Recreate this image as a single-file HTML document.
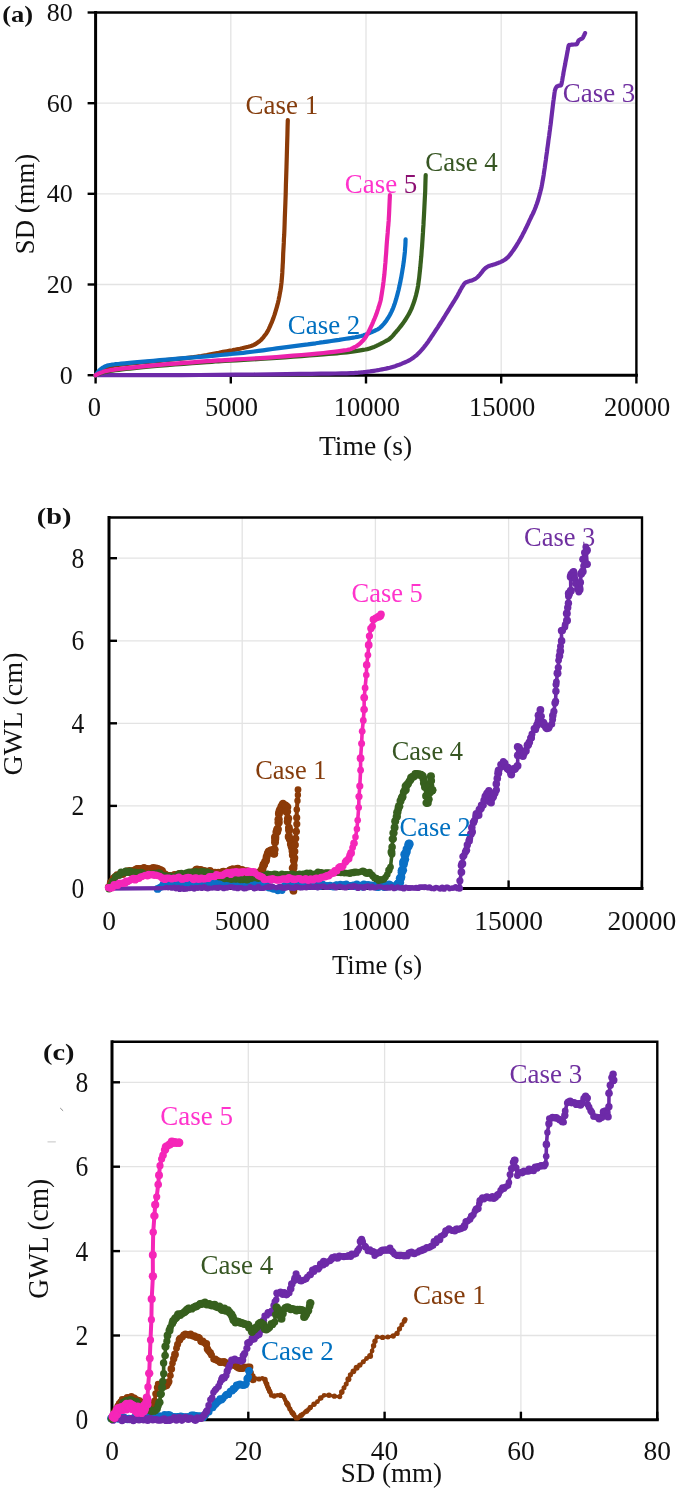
<!DOCTYPE html><html><head><meta charset="utf-8"><style>html,body{margin:0;padding:0;background:#fff}svg{display:block;will-change:transform}text{font-family:"Liberation Serif",serif}</style></head><body>
<svg width="685" height="1496" viewBox="0 0 685 1496">
<rect width="685" height="1496" fill="#fff"/>
<line x1="230.8" y1="12.5" x2="230.8" y2="375.2" stroke="#E3E3E3" stroke-width="1.3"/>
<line x1="366.0" y1="12.5" x2="366.0" y2="375.2" stroke="#E3E3E3" stroke-width="1.3"/>
<line x1="501.2" y1="12.5" x2="501.2" y2="375.2" stroke="#E3E3E3" stroke-width="1.3"/>
<line x1="95.6" y1="284.5" x2="636.4" y2="284.5" stroke="#E3E3E3" stroke-width="1.3"/>
<line x1="95.6" y1="193.8" x2="636.4" y2="193.8" stroke="#E3E3E3" stroke-width="1.3"/>
<line x1="95.6" y1="103.2" x2="636.4" y2="103.2" stroke="#E3E3E3" stroke-width="1.3"/>
<path d="M95.6 12.5 H636.4 V375.2" fill="none" stroke="#000" stroke-width="2.4"/>
<path d="M95.6 12.5 V375.2 H636.4" fill="none" stroke="#000" stroke-width="3" stroke-linecap="square"/>
<line x1="95.6" y1="375.2" x2="95.6" y2="383.5" stroke="#000" stroke-width="2.4"/>
<line x1="230.8" y1="375.2" x2="230.8" y2="383.5" stroke="#000" stroke-width="2.4"/>
<line x1="366.0" y1="375.2" x2="366.0" y2="383.5" stroke="#000" stroke-width="2.4"/>
<line x1="501.2" y1="375.2" x2="501.2" y2="383.5" stroke="#000" stroke-width="2.4"/>
<line x1="636.4" y1="375.2" x2="636.4" y2="383.5" stroke="#000" stroke-width="2.4"/>
<line x1="87.6" y1="375.2" x2="95.6" y2="375.2" stroke="#000" stroke-width="2.4"/>
<line x1="87.6" y1="284.5" x2="95.6" y2="284.5" stroke="#000" stroke-width="2.4"/>
<line x1="87.6" y1="193.8" x2="95.6" y2="193.8" stroke="#000" stroke-width="2.4"/>
<line x1="87.6" y1="103.2" x2="95.6" y2="103.2" stroke="#000" stroke-width="2.4"/>
<line x1="87.6" y1="12.5" x2="95.6" y2="12.5" stroke="#000" stroke-width="2.4"/>
<path d="M95.6 375.2 L96.0 374.8 L96.5 374.4 L97.2 373.8 L98.0 373.2 L98.9 372.5 L100.0 371.8 L101.3 371.0 L102.7 370.2 L104.3 369.3 L106.1 368.3 L108.0 367.5 L110.0 366.8 L112.0 366.2 L113.9 365.8 L115.9 365.4 L118.3 365.0 L121.3 364.7 L125.0 364.2 L129.7 363.7 L135.4 363.1 L141.6 362.5 L148.0 361.9 L154.2 361.4 L160.0 360.8 L165.4 360.2 L170.9 359.7 L176.1 359.2 L181.2 358.6 L185.8 358.1 L190.0 357.6 L193.5 357.2 L196.3 356.8 L198.8 356.4 L201.2 356.0 L203.8 355.5 L206.8 355.0 L210.4 354.3 L214.5 353.6 L218.8 352.8 L223.0 351.9 L226.8 351.2 L230.0 350.6 L232.4 350.2 L234.2 349.8 L235.7 349.6 L237.0 349.3 L238.4 349.0 L240.0 348.7 L241.9 348.3 L244.0 347.8 L246.1 347.3 L248.2 346.8 L250.1 346.3 L251.7 345.8 L253.0 345.3 L254.0 344.9 L254.8 344.4 L255.6 344.0 L256.3 343.5 L257.0 343.0 L257.7 342.5 L258.4 342.0 L259.1 341.5 L259.8 341.0 L260.4 340.5 L261.0 339.9 L261.6 339.3 L262.2 338.6 L262.8 338.0 L263.4 337.3 L263.9 336.6 L264.5 335.8 L265.1 335.0 L265.7 334.2 L266.3 333.4 L266.9 332.5 L267.4 331.6 L268.0 330.6 L268.5 329.6 L269.0 328.5 L269.5 327.4 L270.0 326.3 L270.5 325.2 L271.0 324.0 L271.5 322.9 L272.0 321.8 L272.4 320.6 L272.9 319.4 L273.4 318.1 L273.9 316.6 L274.5 314.9 L275.1 313.0 L275.7 310.9 L276.3 308.9 L276.9 306.8 L277.4 304.9 L277.9 303.1 L278.3 301.4 L278.7 299.6 L279.0 297.9 L279.4 296.2 L279.7 294.4 L280.0 292.6 L280.4 290.7 L280.7 288.8 L281.0 286.9 L281.2 284.9 L281.5 282.7 L281.7 280.4 L281.9 278.0 L282.1 275.5 L282.3 272.9 L282.4 270.2 L282.6 267.5 L282.7 264.8 L282.9 262.1 L283.0 259.4 L283.1 256.5 L283.2 253.4 L283.4 250.0 L283.6 246.5 L283.8 242.9 L283.9 239.2 L284.2 235.0 L284.4 230.2 L284.6 224.5 L284.8 217.9 L285.1 210.4 L285.4 202.4 L285.7 193.9 L285.9 185.2 L286.2 176.4 L286.5 166.8 L286.8 156.2 L287.1 145.2 L287.4 135.0 L287.6 126.3 L287.8 120.1" fill="none" stroke="#8C3B08" stroke-width="4.20" stroke-linejoin="round" stroke-linecap="round" />
<path d="M95.6 375.2 L96.0 374.7 L96.4 374.0 L97.0 373.2 L97.6 372.4 L98.3 371.5 L99.0 370.8 L99.7 370.1 L100.5 369.4 L101.3 368.8 L102.2 368.1 L103.1 367.5 L104.0 367.0 L104.8 366.6 L105.6 366.2 L106.4 365.9 L107.3 365.6 L108.5 365.3 L110.0 365.0 L111.7 364.7 L113.6 364.5 L115.7 364.2 L118.2 364.0 L121.2 363.7 L125.0 363.3 L129.5 362.9 L134.7 362.4 L140.5 361.9 L146.7 361.3 L153.3 360.8 L160.0 360.2 L167.4 359.6 L175.6 358.9 L184.1 358.2 L192.5 357.5 L200.2 356.9 L206.8 356.3 L212.2 355.8 L216.7 355.4 L220.5 355.0 L224.0 354.7 L227.3 354.3 L230.8 354.0 L234.2 353.7 L237.3 353.4 L240.2 353.1 L243.2 352.8 L246.4 352.4 L250.0 352.0 L254.1 351.5 L258.5 350.9 L263.1 350.3 L267.8 349.6 L272.4 349.0 L276.7 348.4 L280.8 347.9 L284.7 347.4 L288.6 346.9 L292.4 346.4 L296.2 345.9 L300.0 345.4 L303.9 344.9 L307.8 344.4 L311.7 343.8 L315.7 343.3 L319.5 342.7 L323.4 342.2 L327.3 341.6 L331.4 341.0 L335.4 340.4 L339.2 339.9 L342.8 339.3 L346.0 338.8 L348.7 338.4 L351.1 338.0 L353.3 337.6 L355.2 337.3 L356.9 336.9 L358.5 336.6 L359.9 336.3 L361.2 336.0 L362.2 335.7 L363.2 335.4 L364.1 335.1 L365.0 334.8 L365.9 334.5 L366.8 334.1 L367.7 333.8 L368.5 333.4 L369.4 333.1 L370.2 332.7 L371.0 332.4 L371.8 332.0 L372.6 331.7 L373.4 331.3 L374.2 331.0 L375.0 330.6 L375.8 330.2 L376.5 329.9 L377.2 329.6 L377.9 329.2 L378.6 328.7 L379.4 328.2 L380.2 327.6 L381.0 326.8 L381.8 326.1 L382.6 325.2 L383.4 324.3 L384.2 323.4 L385.0 322.4 L385.8 321.4 L386.6 320.3 L387.3 319.1 L388.1 318.0 L388.8 316.8 L389.5 315.6 L390.1 314.5 L390.7 313.3 L391.3 312.1 L391.9 310.8 L392.5 309.5 L393.1 308.1 L393.7 306.5 L394.2 305.0 L394.8 303.4 L395.3 301.8 L395.8 300.2 L396.3 298.7 L396.7 297.1 L397.1 295.6 L397.5 294.1 L397.9 292.5 L398.3 291.0 L398.7 289.4 L399.0 287.9 L399.4 286.3 L399.7 284.8 L400.1 283.1 L400.4 281.5 L400.7 279.8 L401.1 278.1 L401.4 276.3 L401.7 274.5 L402.0 272.8 L402.3 271.0 L402.6 269.2 L402.9 267.5 L403.2 265.7 L403.4 263.9 L403.7 262.2 L403.9 260.4 L404.1 258.7 L404.3 256.9 L404.5 255.2 L404.7 253.5 L404.9 251.7 L405.0 250.0 L405.1 248.1 L405.3 246.1 L405.4 244.1 L405.5 242.2 L405.5 240.6 L405.6 239.4" fill="none" stroke="#0A70C6" stroke-width="4.20" stroke-linejoin="round" stroke-linecap="round" />
<path d="M95.6 375.2 L107.0 375.2 L122.8 375.2 L141.5 375.2 L161.7 375.1 L181.6 375.1 L200.0 375.0 L217.5 374.9 L235.6 374.7 L253.6 374.5 L270.8 374.3 L286.5 374.1 L300.0 373.9 L311.3 373.8 L320.8 373.7 L328.8 373.6 L335.6 373.5 L341.5 373.4 L346.7 373.3 L350.9 373.2 L353.7 373.1 L355.6 372.9 L357.0 372.8 L358.4 372.7 L360.0 372.5 L361.8 372.3 L363.5 372.2 L365.1 372.0 L366.6 371.8 L368.3 371.6 L370.0 371.4 L371.9 371.1 L373.9 370.8 L375.9 370.5 L378.0 370.2 L380.0 369.8 L382.0 369.4 L384.0 369.0 L385.9 368.6 L387.9 368.1 L389.8 367.7 L391.6 367.2 L393.4 366.7 L395.1 366.2 L396.8 365.6 L398.3 365.1 L399.9 364.5 L401.4 363.9 L403.0 363.2 L404.6 362.5 L406.1 361.8 L407.7 361.1 L409.2 360.3 L410.7 359.5 L412.1 358.6 L413.4 357.7 L414.7 356.7 L416.0 355.7 L417.2 354.6 L418.3 353.5 L419.5 352.3 L420.6 351.1 L421.7 349.9 L422.8 348.6 L423.9 347.3 L425.0 345.9 L426.1 344.5 L427.2 343.0 L428.4 341.4 L429.5 339.7 L430.7 338.0 L431.8 336.2 L433.0 334.5 L434.2 332.7 L435.4 330.8 L436.7 328.9 L437.9 327.1 L439.1 325.2 L440.2 323.5 L441.2 321.9 L442.2 320.4 L443.1 318.9 L444.0 317.5 L444.9 316.0 L445.8 314.5 L446.8 312.9 L447.8 311.3 L448.8 309.7 L449.8 308.0 L450.8 306.4 L451.8 304.8 L452.8 303.2 L453.8 301.6 L454.8 300.0 L455.8 298.4 L456.7 296.9 L457.5 295.5 L458.2 294.2 L458.8 293.1 L459.4 292.0 L459.9 291.0 L460.4 290.0 L461.0 289.0 L461.6 287.9 L462.2 286.9 L462.9 285.8 L463.5 284.8 L464.1 283.9 L464.8 283.2 L465.5 282.6 L466.2 282.2 L466.9 281.9 L467.6 281.7 L468.3 281.4 L469.0 281.2 L469.6 281.0 L470.2 280.8 L470.8 280.7 L471.3 280.6 L471.9 280.4 L472.5 280.2 L473.1 279.9 L473.8 279.6 L474.5 279.3 L475.2 278.9 L475.9 278.5 L476.5 278.0 L477.1 277.5 L477.7 277.0 L478.2 276.4 L478.8 275.8 L479.4 275.2 L480.0 274.5 L480.6 273.7 L481.3 272.9 L482.0 272.0 L482.6 271.1 L483.3 270.2 L484.0 269.5 L484.7 268.8 L485.4 268.2 L486.0 267.7 L486.7 267.2 L487.5 266.7 L488.2 266.3 L489.0 266.0 L489.7 265.7 L490.5 265.5 L491.3 265.3 L492.2 265.1 L493.0 264.8 L493.9 264.5 L494.8 264.2 L495.7 263.9 L496.6 263.6 L497.5 263.3 L498.4 262.9 L499.3 262.5 L500.1 262.2 L501.0 261.8 L501.8 261.4 L502.7 261.0 L503.5 260.5 L504.3 260.0 L505.2 259.4 L506.0 258.9 L506.8 258.2 L507.7 257.4 L508.6 256.5 L509.5 255.4 L510.5 254.2 L511.5 252.8 L512.5 251.4 L513.5 250.0 L514.5 248.5 L515.5 247.0 L516.5 245.5 L517.4 243.9 L518.4 242.3 L519.4 240.6 L520.3 239.0 L521.2 237.4 L522.1 235.7 L522.9 234.1 L523.8 232.4 L524.7 230.7 L525.5 229.0 L526.4 227.3 L527.2 225.5 L528.1 223.7 L528.9 221.9 L529.7 220.1 L530.5 218.5 L531.2 217.0 L531.9 215.5 L532.6 214.2 L533.3 212.8 L533.9 211.4 L534.5 210.0 L535.1 208.5 L535.7 207.0 L536.2 205.5 L536.8 204.0 L537.3 202.5 L537.8 201.0 L538.3 199.5 L538.7 198.0 L539.1 196.5 L539.5 195.0 L539.9 193.5 L540.3 192.0 L540.6 190.6 L541.0 189.3 L541.3 188.0 L541.6 186.7 L541.9 185.2 L542.2 183.5 L542.5 181.6 L542.9 179.5 L543.3 177.2 L543.7 174.8 L544.0 172.4 L544.4 170.0 L544.8 167.5 L545.1 165.0 L545.5 162.3 L545.9 159.7 L546.2 157.0 L546.6 154.3 L547.0 151.6 L547.3 148.9 L547.7 146.2 L548.1 143.4 L548.4 140.7 L548.8 138.0 L549.2 135.3 L549.5 132.7 L549.9 130.0 L550.2 127.4 L550.6 124.8 L550.9 122.2 L551.2 119.6 L551.5 117.0 L551.8 114.5 L552.1 112.0 L552.4 109.5 L552.7 107.0 L553.0 104.5 L553.3 101.9 L553.7 99.3 L554.0 96.9 L554.3 94.7 L554.5 93.0 L554.7 91.7 L554.8 90.9 L555.0 90.3 L555.1 89.8 L555.2 89.5 L555.4 89.0 L555.6 88.5 L555.8 88.0 L556.0 87.6 L556.3 87.2 L556.5 86.9 L556.8 86.6 L557.1 86.3 L557.5 86.2 L557.8 86.0 L558.2 85.9 L558.6 85.7 L559.0 85.6 L559.4 85.5 L559.8 85.5 L560.2 85.6 L560.5 85.5 L560.9 85.3 L561.2 84.8 L561.5 84.0 L561.7 83.0 L561.9 81.9 L562.2 80.6 L562.4 79.3 L562.6 78.0 L562.8 76.7 L563.1 75.4 L563.3 74.1 L563.5 72.7 L563.8 71.2 L564.1 69.6 L564.4 67.9 L564.8 66.0 L565.2 64.0 L565.5 62.0 L565.9 60.0 L566.3 58.0 L566.7 55.9 L567.1 53.7 L567.5 51.5 L567.9 49.4 L568.2 47.6 L568.5 46.3 L568.7 45.5 L568.9 45.1 L569.1 45.0 L569.2 45.1 L569.3 45.2 L569.5 45.2 L569.7 45.1 L569.8 45.0 L570.0 45.0 L570.2 44.9 L570.5 44.9 L570.8 44.8 L571.2 44.7 L571.7 44.7 L572.3 44.6 L572.9 44.6 L573.5 44.5 L574.0 44.5 L574.5 44.5 L575.0 44.5 L575.4 44.4 L575.9 44.4 L576.3 44.3 L576.6 44.2 L576.9 44.0 L577.1 43.8 L577.3 43.5 L577.4 43.1 L577.5 42.8 L577.7 42.5 L577.9 42.2 L578.0 41.8 L578.2 41.4 L578.3 41.0 L578.5 40.7 L578.7 40.4 L579.0 40.1 L579.2 39.9 L579.5 39.7 L579.9 39.6 L580.2 39.4 L580.5 39.2 L580.8 39.0 L581.2 38.9 L581.5 38.7 L581.9 38.6 L582.2 38.4 L582.5 38.1 L582.8 37.8 L583.1 37.3 L583.3 36.9 L583.5 36.4 L583.8 35.9 L584.0 35.5 L584.2 35.1 L584.4 34.6 L584.6 34.1 L584.8 33.7 L585.0 33.4 L585.1 33.1" fill="none" stroke="#6D2AA8" stroke-width="4.20" stroke-linejoin="round" stroke-linecap="round" />
<path d="M95.6 375.2 L96.0 375.0 L96.5 374.8 L97.2 374.5 L98.0 374.2 L98.9 373.8 L100.0 373.5 L101.2 373.1 L102.5 372.7 L104.0 372.3 L105.7 371.9 L107.7 371.4 L110.0 371.0 L112.6 370.6 L115.6 370.2 L118.8 369.8 L122.2 369.4 L126.0 369.0 L130.0 368.6 L134.2 368.2 L138.6 367.7 L143.3 367.2 L148.4 366.7 L153.9 366.2 L160.0 365.7 L167.1 365.1 L175.2 364.5 L183.8 363.8 L192.3 363.2 L200.2 362.6 L206.8 362.1 L211.8 361.8 L215.4 361.5 L218.4 361.4 L221.4 361.2 L225.0 361.0 L230.0 360.7 L236.4 360.3 L243.8 359.9 L251.9 359.4 L260.3 358.9 L268.6 358.4 L276.7 357.9 L284.8 357.3 L293.1 356.7 L301.5 356.1 L309.6 355.5 L317.0 354.9 L323.4 354.4 L328.7 354.0 L333.1 353.6 L336.9 353.3 L340.2 353.0 L343.4 352.7 L346.8 352.3 L350.3 351.9 L353.8 351.4 L357.1 350.9 L360.3 350.4 L363.1 349.9 L365.5 349.5 L367.4 349.1 L368.9 348.7 L370.0 348.4 L371.0 348.1 L371.9 347.7 L373.0 347.3 L374.2 346.9 L375.3 346.4 L376.4 345.9 L377.4 345.4 L378.5 344.9 L379.5 344.4 L380.5 343.9 L381.4 343.4 L382.3 343.0 L383.2 342.5 L384.1 342.0 L385.0 341.5 L385.9 341.0 L386.7 340.6 L387.5 340.2 L388.3 339.8 L389.1 339.2 L390.0 338.5 L390.9 337.6 L391.9 336.7 L392.9 335.6 L393.9 334.4 L394.9 333.2 L396.0 332.0 L397.1 330.7 L398.3 329.3 L399.5 327.8 L400.6 326.4 L401.8 324.9 L402.8 323.5 L403.8 322.1 L404.7 320.8 L405.6 319.5 L406.4 318.2 L407.2 316.8 L408.0 315.5 L408.8 314.2 L409.5 312.8 L410.2 311.5 L410.8 310.1 L411.5 308.7 L412.1 307.2 L412.7 305.6 L413.3 304.0 L413.9 302.3 L414.5 300.5 L415.0 298.8 L415.5 297.0 L416.0 295.3 L416.4 293.6 L416.8 291.9 L417.2 290.1 L417.6 288.2 L418.0 286.1 L418.4 283.7 L418.7 281.1 L419.1 278.4 L419.4 275.6 L419.7 272.8 L420.0 270.0 L420.3 267.3 L420.5 264.6 L420.8 261.8 L421.0 259.1 L421.3 256.3 L421.5 253.4 L421.7 250.4 L422.0 247.3 L422.2 244.2 L422.4 241.1 L422.6 238.0 L422.8 235.0 L423.0 232.2 L423.1 229.6 L423.3 227.0 L423.5 224.4 L423.6 221.5 L423.8 218.4 L424.0 214.9 L424.2 211.0 L424.4 206.9 L424.6 202.8 L424.8 198.8 L425.0 195.0 L425.2 191.3 L425.3 187.4 L425.4 183.6 L425.5 180.2 L425.6 177.3 L425.7 175.2" fill="none" stroke="#37601E" stroke-width="4.20" stroke-linejoin="round" stroke-linecap="round" />
<path d="M95.6 375.2 L96.0 375.0 L96.5 374.7 L97.2 374.3 L98.0 373.9 L98.9 373.4 L100.0 373.0 L101.2 372.6 L102.5 372.1 L104.0 371.6 L105.7 371.1 L107.7 370.7 L110.0 370.2 L112.6 369.8 L115.6 369.4 L118.8 369.0 L122.2 368.6 L126.0 368.2 L130.0 367.8 L134.2 367.3 L138.6 366.9 L143.3 366.4 L148.4 365.9 L153.9 365.3 L160.0 364.8 L167.1 364.2 L175.2 363.6 L183.8 362.9 L192.3 362.3 L200.2 361.7 L206.8 361.2 L211.8 360.9 L215.4 360.6 L218.4 360.4 L221.4 360.3 L225.0 360.1 L230.0 359.8 L236.4 359.4 L243.8 359.0 L251.9 358.6 L260.3 358.1 L268.6 357.6 L276.7 357.0 L284.8 356.4 L293.1 355.7 L301.5 355.0 L309.6 354.3 L317.0 353.6 L323.4 353.0 L328.8 352.4 L333.6 351.9 L337.6 351.4 L341.1 350.9 L344.2 350.4 L346.8 350.0 L348.8 349.6 L350.2 349.3 L351.0 349.0 L351.6 348.7 L352.2 348.4 L353.0 348.0 L354.0 347.5 L355.0 347.0 L355.9 346.5 L356.8 345.9 L357.7 345.4 L358.5 344.8 L359.2 344.3 L359.8 343.7 L360.4 343.2 L360.9 342.7 L361.4 342.1 L362.0 341.5 L362.6 340.9 L363.2 340.3 L363.8 339.6 L364.3 339.0 L364.9 338.2 L365.5 337.4 L366.1 336.5 L366.7 335.5 L367.2 334.4 L367.8 333.3 L368.4 332.2 L369.0 331.0 L369.6 329.8 L370.2 328.5 L370.8 327.2 L371.4 325.9 L372.0 324.6 L372.5 323.4 L373.0 322.3 L373.4 321.3 L373.8 320.3 L374.2 319.4 L374.6 318.5 L375.0 317.5 L375.4 316.5 L375.8 315.6 L376.1 314.6 L376.5 313.6 L376.9 312.7 L377.2 311.7 L377.5 310.7 L377.8 309.8 L378.1 308.9 L378.4 307.9 L378.7 307.0 L379.0 306.0 L379.3 305.1 L379.6 304.2 L379.8 303.3 L380.1 302.4 L380.4 301.3 L380.7 300.0 L381.0 298.5 L381.3 296.7 L381.6 294.9 L381.9 292.9 L382.2 291.0 L382.5 289.0 L382.8 287.1 L383.1 285.2 L383.3 283.3 L383.6 281.3 L383.8 279.1 L384.1 276.8 L384.4 274.3 L384.6 271.6 L384.9 268.8 L385.1 265.9 L385.4 262.9 L385.6 260.0 L385.8 257.0 L386.1 253.8 L386.3 250.7 L386.5 247.5 L386.7 244.5 L386.9 241.8 L387.1 239.3 L387.3 237.1 L387.5 234.9 L387.7 232.9 L387.8 230.9 L388.0 229.0 L388.1 227.3 L388.3 225.8 L388.4 224.4 L388.5 222.8 L388.7 220.9 L388.8 218.4 L389.0 215.0 L389.2 210.7 L389.4 206.0 L389.6 201.5 L389.8 197.7 L389.9 195.0" fill="none" stroke="#EC22AC" stroke-width="4.20" stroke-linejoin="round" stroke-linecap="round" />
<text x="94.4" y="416.0" font-size="26.5" fill="#111" text-anchor="middle" font-weight="normal" >0</text>
<text x="231.6" y="416.0" font-size="26.5" fill="#111" text-anchor="middle" font-weight="normal" >5000</text>
<text x="366.8" y="416.0" font-size="26.5" fill="#111" text-anchor="middle" font-weight="normal" >10000</text>
<text x="502.0" y="416.0" font-size="26.5" fill="#111" text-anchor="middle" font-weight="normal" >15000</text>
<text x="637.2" y="416.0" font-size="26.5" fill="#111" text-anchor="middle" font-weight="normal" >20000</text>
<text x="72.8" y="383.5" font-size="26.0" fill="#111" text-anchor="end" font-weight="normal" >0</text>
<text x="72.8" y="292.8" font-size="26.0" fill="#111" text-anchor="end" font-weight="normal" >20</text>
<text x="72.8" y="202.1" font-size="26.0" fill="#111" text-anchor="end" font-weight="normal" >40</text>
<text x="72.8" y="111.5" font-size="26.0" fill="#111" text-anchor="end" font-weight="normal" >60</text>
<text x="72.8" y="20.8" font-size="26.0" fill="#111" text-anchor="end" font-weight="normal" >80</text>
<text x="365.6" y="455.0" font-size="27.6" fill="#111" text-anchor="middle" font-weight="normal" >Time (s)</text>
<text transform="translate(33.8,204) rotate(-90)" font-size="26.8" fill="#111" text-anchor="middle">SD (mm)</text>
<text transform="translate(2.2,22.2) scale(1.18,1)" font-size="22.5" font-weight="bold" fill="#111">(a)</text>
<text transform="translate(245.6,114.2) scale(0.955,1)" font-size="28.2" fill="#843C0C">Case 1</text>
<text transform="translate(287.8,334) scale(0.955,1)" font-size="28.2" fill="#0070C0">Case 2</text>
<text transform="translate(562.8,102.3) scale(0.955,1)" font-size="28.2" fill="#7030A0">Case 3</text>
<text transform="translate(425.3,171) scale(0.955,1)" font-size="28.2" fill="#375623">Case 4</text>
<text transform="translate(344.8,192.6) scale(0.955,1)" font-size="28.2" fill="#FF33CC">Case <tspan fill="#8C0F72">5</tspan></text>
<line x1="242.2" y1="517.5" x2="242.2" y2="888.4" stroke="#E3E3E3" stroke-width="1.3"/>
<line x1="375.4" y1="517.5" x2="375.4" y2="888.4" stroke="#E3E3E3" stroke-width="1.3"/>
<line x1="508.6" y1="517.5" x2="508.6" y2="888.4" stroke="#E3E3E3" stroke-width="1.3"/>
<line x1="109.0" y1="805.9" x2="642.0" y2="805.9" stroke="#E3E3E3" stroke-width="1.3"/>
<line x1="109.0" y1="723.3" x2="642.0" y2="723.3" stroke="#E3E3E3" stroke-width="1.3"/>
<line x1="109.0" y1="640.8" x2="642.0" y2="640.8" stroke="#E3E3E3" stroke-width="1.3"/>
<line x1="109.0" y1="558.2" x2="642.0" y2="558.2" stroke="#E3E3E3" stroke-width="1.3"/>
<path d="M109.0 517.5 H642.0 V888.4" fill="none" stroke="#000" stroke-width="2.4"/>
<path d="M109.0 517.5 V888.4 H642.0" fill="none" stroke="#000" stroke-width="3" stroke-linecap="square"/>
<line x1="109.0" y1="880.4" x2="109.0" y2="888.4" stroke="#000" stroke-width="2.4"/>
<line x1="242.2" y1="880.4" x2="242.2" y2="888.4" stroke="#000" stroke-width="2.4"/>
<line x1="375.4" y1="880.4" x2="375.4" y2="888.4" stroke="#000" stroke-width="2.4"/>
<line x1="508.6" y1="880.4" x2="508.6" y2="888.4" stroke="#000" stroke-width="2.4"/>
<line x1="641.8" y1="880.4" x2="641.8" y2="888.4" stroke="#000" stroke-width="2.4"/>
<line x1="109.0" y1="888.4" x2="117.0" y2="888.4" stroke="#000" stroke-width="2.4"/>
<line x1="109.0" y1="805.9" x2="117.0" y2="805.9" stroke="#000" stroke-width="2.4"/>
<line x1="109.0" y1="723.3" x2="117.0" y2="723.3" stroke="#000" stroke-width="2.4"/>
<line x1="109.0" y1="640.8" x2="117.0" y2="640.8" stroke="#000" stroke-width="2.4"/>
<line x1="109.0" y1="558.2" x2="117.0" y2="558.2" stroke="#000" stroke-width="2.4"/>
<g>
<path d="M108.8 887.1 L110.7 882.9 L112.3 880.6 L113.5 878.2 L115.2 876.7 L117.0 874.6 L119.1 875.3 L120.6 873.2 L122.8 874.6 L124.5 872.7 L126.7 871.4 L128.3 871.8 L129.5 871.0 L131.4 872.2 L133.0 870.9 L135.2 869.6 L136.9 868.4 L138.3 868.4 L140.6 868.6 L142.1 868.7 L144.0 867.7 L146.1 869.0 L147.3 869.0 L149.4 870.2 L151.4 868.6 L153.4 867.9 L154.6 869.3 L156.2 868.4 L157.9 869.1 L160.3 870.0 L162.1 870.9 L163.6 873.7 L165.3 873.9 L167.3 875.7 L168.7 875.5 L170.1 876.0 L172.5 876.7 L174.4 874.7 L175.8 875.6 L177.3 875.0 L179.2 874.0 L180.9 875.5 L182.7 873.9 L184.8 875.2 L186.3 873.9 L188.5 874.7 L190.5 874.3 L191.8 872.3 L193.6 872.6 L195.9 869.9 L197.0 869.2 L198.8 869.8 L200.9 869.5 L202.1 870.3 L204.3 871.0 L206.6 871.7 L208.0 871.9 L209.9 870.9 L211.9 873.1 L213.6 873.4 L215.0 872.6 L216.5 873.5 L218.3 872.2 L220.2 872.5 L222.1 871.8 L223.5 871.6 L225.4 871.7 L227.1 872.6 L229.4 870.2 L230.9 870.1 L232.7 868.9 L235.0 870.6 L236.4 869.0 L237.8 868.7 L239.8 869.7 L242.0 870.1 L243.0 872.8 L245.3 871.1 L247.1 871.0 L248.9 873.8 L251.0 873.3 L252.2 872.7 L253.9 873.7 L256.0 873.7 L257.7 872.3 L259.9 873.5 L261.6 872.1" fill="none" stroke="#8C3B08" stroke-width="3.60" stroke-linejoin="round" stroke-linecap="round" />
<g fill="#8C3B08"><circle cx="108.8" cy="887.1" r="3.9"/><circle cx="110.7" cy="882.9" r="3.9"/><circle cx="112.3" cy="880.6" r="3.5"/><circle cx="113.5" cy="878.2" r="3.7"/><circle cx="115.2" cy="876.7" r="3.6"/><circle cx="117.0" cy="874.6" r="3.4"/><circle cx="119.1" cy="875.3" r="3.4"/><circle cx="120.6" cy="873.2" r="3.5"/><circle cx="122.8" cy="874.6" r="3.5"/><circle cx="124.5" cy="872.7" r="3.8"/><circle cx="126.7" cy="871.4" r="4.0"/><circle cx="128.3" cy="871.8" r="3.7"/><circle cx="129.5" cy="871.0" r="4.0"/><circle cx="131.4" cy="872.2" r="4.0"/><circle cx="133.0" cy="870.9" r="4.0"/><circle cx="135.2" cy="869.6" r="3.6"/><circle cx="136.9" cy="868.4" r="3.5"/><circle cx="138.3" cy="868.4" r="3.5"/><circle cx="140.6" cy="868.6" r="3.5"/><circle cx="142.1" cy="868.7" r="3.5"/><circle cx="144.0" cy="867.7" r="3.8"/><circle cx="146.1" cy="869.0" r="4.0"/><circle cx="147.3" cy="869.0" r="3.9"/><circle cx="149.4" cy="870.2" r="3.7"/><circle cx="151.4" cy="868.6" r="3.8"/><circle cx="153.4" cy="867.9" r="3.9"/><circle cx="154.6" cy="869.3" r="3.4"/><circle cx="156.2" cy="868.4" r="3.8"/><circle cx="157.9" cy="869.1" r="4.0"/><circle cx="160.3" cy="870.0" r="3.9"/><circle cx="162.1" cy="870.9" r="3.9"/><circle cx="163.6" cy="873.7" r="3.7"/><circle cx="165.3" cy="873.9" r="3.5"/><circle cx="167.3" cy="875.7" r="3.9"/><circle cx="168.7" cy="875.5" r="3.6"/><circle cx="170.1" cy="876.0" r="3.9"/><circle cx="172.5" cy="876.7" r="4.0"/><circle cx="174.4" cy="874.7" r="3.6"/><circle cx="175.8" cy="875.6" r="3.6"/><circle cx="177.3" cy="875.0" r="4.0"/><circle cx="179.2" cy="874.0" r="3.9"/><circle cx="180.9" cy="875.5" r="3.5"/><circle cx="182.7" cy="873.9" r="3.4"/><circle cx="184.8" cy="875.2" r="3.5"/><circle cx="186.3" cy="873.9" r="4.0"/><circle cx="188.5" cy="874.7" r="3.9"/><circle cx="190.5" cy="874.3" r="3.5"/><circle cx="191.8" cy="872.3" r="3.9"/><circle cx="193.6" cy="872.6" r="4.0"/><circle cx="195.9" cy="869.9" r="3.8"/><circle cx="197.0" cy="869.2" r="3.6"/><circle cx="198.8" cy="869.8" r="3.7"/><circle cx="200.9" cy="869.5" r="3.4"/><circle cx="202.1" cy="870.3" r="3.4"/><circle cx="204.3" cy="871.0" r="4.0"/><circle cx="206.6" cy="871.7" r="3.8"/><circle cx="208.0" cy="871.9" r="3.7"/><circle cx="209.9" cy="870.9" r="4.0"/><circle cx="211.9" cy="873.1" r="3.7"/><circle cx="213.6" cy="873.4" r="4.0"/><circle cx="215.0" cy="872.6" r="3.9"/><circle cx="216.5" cy="873.5" r="3.5"/><circle cx="218.3" cy="872.2" r="3.5"/><circle cx="220.2" cy="872.5" r="3.6"/><circle cx="222.1" cy="871.8" r="3.5"/><circle cx="223.5" cy="871.6" r="3.8"/><circle cx="225.4" cy="871.7" r="3.5"/><circle cx="227.1" cy="872.6" r="3.6"/><circle cx="229.4" cy="870.2" r="3.4"/><circle cx="230.9" cy="870.1" r="4.0"/><circle cx="232.7" cy="868.9" r="3.6"/><circle cx="235.0" cy="870.6" r="3.7"/><circle cx="236.4" cy="869.0" r="3.8"/><circle cx="237.8" cy="868.7" r="4.0"/><circle cx="239.8" cy="869.7" r="3.6"/><circle cx="242.0" cy="870.1" r="4.0"/><circle cx="243.0" cy="872.8" r="3.7"/><circle cx="245.3" cy="871.1" r="3.7"/><circle cx="247.1" cy="871.0" r="3.7"/><circle cx="248.9" cy="873.8" r="3.4"/><circle cx="251.0" cy="873.3" r="3.7"/><circle cx="252.2" cy="872.7" r="3.5"/><circle cx="253.9" cy="873.7" r="3.4"/><circle cx="256.0" cy="873.7" r="3.9"/><circle cx="257.7" cy="872.3" r="3.5"/><circle cx="259.9" cy="873.5" r="3.7"/><circle cx="261.6" cy="872.1" r="3.9"/></g>
</g>
<g>
<path d="M261.4 870.7 L262.1 869.6 L263.2 866.1 L263.7 864.7 L264.1 864.5 L265.1 861.7 L266.2 860.5 L266.5 857.2 L267.3 854.5 L268.3 852.8 L269.0 851.6 L270.3 851.2 L271.1 851.1 L271.3 850.6 L273.0 852.3 L273.0 850.6 L274.0 853.3 L274.1 853.7 L274.4 849.6 L275.0 842.3 L275.2 839.0 L275.2 836.9 L276.8 831.9 L277.5 829.8 L277.6 829.1 L278.6 822.7 L278.6 819.4 L278.9 813.8 L279.4 811.5 L279.9 809.6 L281.2 806.5 L282.0 807.2 L283.0 804.0 L284.5 807.1 L285.4 805.3 L285.5 805.7 L287.1 807.0 L286.8 811.6 L288.1 818.4 L287.6 821.6 L288.9 827.6 L289.1 830.3 L288.8 836.7 L289.7 838.9 L291.0 844.0 L291.5 844.7 L292.2 847.2 L292.9 851.1 L292.9 855.1 L293.8 860.4 L293.1 868.0 L293.3 874.4 L293.2 882.0 L293.3 890.4" fill="none" stroke="#8C3B08" stroke-width="4.40" stroke-linejoin="round" stroke-linecap="round" />
<g fill="#8C3B08"><circle cx="261.4" cy="870.7" r="4.0"/><circle cx="262.1" cy="869.6" r="4.3"/><circle cx="263.2" cy="866.1" r="4.0"/><circle cx="263.7" cy="864.7" r="4.1"/><circle cx="264.1" cy="864.5" r="3.9"/><circle cx="265.1" cy="861.7" r="4.0"/><circle cx="266.2" cy="860.5" r="3.8"/><circle cx="266.5" cy="857.2" r="3.9"/><circle cx="267.3" cy="854.5" r="3.8"/><circle cx="268.3" cy="852.8" r="4.3"/><circle cx="269.0" cy="851.6" r="4.1"/><circle cx="270.3" cy="851.2" r="3.9"/><circle cx="271.1" cy="851.1" r="4.1"/><circle cx="271.3" cy="850.6" r="4.4"/><circle cx="273.0" cy="852.3" r="3.8"/><circle cx="273.0" cy="850.6" r="4.3"/><circle cx="274.0" cy="853.3" r="4.1"/><circle cx="274.1" cy="853.7" r="4.1"/><circle cx="274.4" cy="849.6" r="4.3"/><circle cx="275.0" cy="842.3" r="4.0"/><circle cx="275.2" cy="839.0" r="4.1"/><circle cx="275.2" cy="836.9" r="4.2"/><circle cx="276.8" cy="831.9" r="4.4"/><circle cx="277.5" cy="829.8" r="4.0"/><circle cx="277.6" cy="829.1" r="4.3"/><circle cx="278.6" cy="822.7" r="4.2"/><circle cx="278.6" cy="819.4" r="4.2"/><circle cx="278.9" cy="813.8" r="4.0"/><circle cx="279.4" cy="811.5" r="4.0"/><circle cx="279.9" cy="809.6" r="3.8"/><circle cx="281.2" cy="806.5" r="3.8"/><circle cx="282.0" cy="807.2" r="3.8"/><circle cx="283.0" cy="804.0" r="4.3"/><circle cx="284.5" cy="807.1" r="3.9"/><circle cx="285.4" cy="805.3" r="3.9"/><circle cx="285.5" cy="805.7" r="3.8"/><circle cx="287.1" cy="807.0" r="4.3"/><circle cx="286.8" cy="811.6" r="4.4"/><circle cx="288.1" cy="818.4" r="4.2"/><circle cx="287.6" cy="821.6" r="3.9"/><circle cx="288.9" cy="827.6" r="3.9"/><circle cx="289.1" cy="830.3" r="4.0"/><circle cx="288.8" cy="836.7" r="4.1"/><circle cx="289.7" cy="838.9" r="3.9"/><circle cx="291.0" cy="844.0" r="4.1"/><circle cx="291.5" cy="844.7" r="3.9"/><circle cx="292.2" cy="847.2" r="4.4"/><circle cx="292.9" cy="851.1" r="4.4"/><circle cx="292.9" cy="855.1" r="4.1"/><circle cx="293.8" cy="860.4" r="3.9"/><circle cx="293.1" cy="868.0" r="4.4"/><circle cx="293.3" cy="874.4" r="4.0"/><circle cx="293.2" cy="882.0" r="4.0"/><circle cx="293.3" cy="890.4" r="3.8"/></g>
</g>
<g>
<path d="M293.6 890.9 L293.9 882.1 L294.1 873.3 L294.1 865.2 L294.6 858.0 L294.7 851.5 L295.2 845.0 L295.7 838.4 L296.2 831.5 L296.8 824.0 L296.7 817.7 L296.8 809.6 L297.5 800.8 L297.9 795.0 L298.0 789.7" fill="none" stroke="#8C3B08" stroke-width="4.00" stroke-linejoin="round" stroke-linecap="round" />
<g fill="#8C3B08"><circle cx="293.6" cy="890.9" r="3.7"/><circle cx="293.9" cy="882.1" r="3.2"/><circle cx="294.1" cy="873.3" r="3.5"/><circle cx="294.1" cy="865.2" r="3.5"/><circle cx="294.6" cy="858.0" r="3.7"/><circle cx="294.7" cy="851.5" r="3.7"/><circle cx="295.2" cy="845.0" r="3.7"/><circle cx="295.7" cy="838.4" r="3.6"/><circle cx="296.2" cy="831.5" r="3.8"/><circle cx="296.8" cy="824.0" r="3.6"/><circle cx="296.7" cy="817.7" r="3.6"/><circle cx="296.8" cy="809.6" r="3.3"/><circle cx="297.5" cy="800.8" r="3.2"/><circle cx="297.9" cy="795.0" r="3.2"/><circle cx="298.0" cy="789.7" r="3.4"/></g>
</g>
<g>
<path d="M157.6 888.9 L159.8 887.5 L161.6 886.7 L163.3 884.0 L165.3 885.4 L166.8 884.0 L168.7 882.6 L170.6 883.1 L171.8 883.1 L174.2 882.9 L176.0 885.1 L177.6 883.4 L179.4 884.2 L181.4 884.0 L183.1 882.5 L184.4 882.9 L186.8 883.1 L188.4 882.2 L189.7 882.9 L192.1 884.1 L194.0 883.0 L195.6 883.4 L197.3 882.5 L199.6 882.7 L201.4 884.7 L202.3 883.4 L204.9 884.8 L206.3 882.9 L207.9 884.7 L209.7 883.7 L211.4 883.6 L214.0 882.5 L215.7 883.5 L217.6 884.1 L218.7 884.6 L220.8 882.2 L222.1 883.5 L224.3 882.9 L225.8 883.1 L227.8 884.5 L229.3 884.2 L231.9 882.5 L233.8 884.1 L235.6 883.0 L236.8 883.3 L239.3 883.8 L240.4 883.4 L242.1 882.4 L243.8 884.6 L245.8 884.9 L247.5 883.0 L249.6 882.8 L251.2 885.0 L253.5 884.6 L255.1 884.9 L257.2 883.9 L258.8 882.7 L260.6 884.2 L262.4 885.1 L263.7 883.8 L266.1 884.4 L267.4 885.4 L269.0 887.5 L271.4 887.4 L272.8 888.7 L274.5 889.2 L275.9 888.6 L277.8 890.6 L279.9 888.7 L282.1 890.5 L283.4 887.0 L284.8 885.9 L286.8 885.3 L288.5 885.5 L290.6 887.1 L292.5 885.6 L294.0 885.7 L295.8 885.0 L297.2 884.6 L299.9 884.0 L301.3 885.4 L303.4 884.2 L304.6 884.4 L306.5 884.9 L308.9 886.1 L310.6 883.8 L311.6 885.7 L314.2 885.1 L315.7 883.8 L317.3 886.4 L319.6 886.2 L321.5 884.6 L322.5 884.3 L324.7 885.8 L326.9 886.0 L328.4 886.1 L330.0 885.5 L331.4 886.2 L333.4 886.6 L335.6 884.9 L336.9 884.8 L339.2 886.0 L340.4 884.3 L342.6 885.8 L344.3 884.8 L346.3 884.2 L347.8 885.5 L350.3 886.0 L352.0 885.6 L353.2 885.0 L355.7 886.3 L356.8 884.4 L358.8 886.2 L360.5 885.1 L362.6 887.0 L363.9 884.5 L365.9 885.6 L368.0 885.0 L369.9 886.5 L371.4 885.1 L373.7 885.4 L375.3 885.2 L376.5 886.7 L378.4 887.2 L380.4 885.1 L381.9 885.7 L384.2 887.1 L385.4 885.5 L387.3 887.1 L389.0 884.5 L390.8 885.4 L393.4 886.7 L395.0 887.0 L397.0 885.1 L397.7 886.7" fill="none" stroke="#0A70C6" stroke-width="3.60" stroke-linejoin="round" stroke-linecap="round" />
<g fill="#0A70C6"><circle cx="157.6" cy="888.9" r="3.9"/><circle cx="159.8" cy="887.5" r="3.4"/><circle cx="161.6" cy="886.7" r="3.8"/><circle cx="163.3" cy="884.0" r="3.6"/><circle cx="165.3" cy="885.4" r="3.6"/><circle cx="166.8" cy="884.0" r="3.6"/><circle cx="168.7" cy="882.6" r="3.5"/><circle cx="170.6" cy="883.1" r="3.4"/><circle cx="171.8" cy="883.1" r="3.5"/><circle cx="174.2" cy="882.9" r="3.6"/><circle cx="176.0" cy="885.1" r="4.0"/><circle cx="177.6" cy="883.4" r="3.4"/><circle cx="179.4" cy="884.2" r="4.0"/><circle cx="181.4" cy="884.0" r="3.5"/><circle cx="183.1" cy="882.5" r="3.6"/><circle cx="184.4" cy="882.9" r="3.9"/><circle cx="186.8" cy="883.1" r="3.9"/><circle cx="188.4" cy="882.2" r="3.7"/><circle cx="189.7" cy="882.9" r="3.4"/><circle cx="192.1" cy="884.1" r="3.7"/><circle cx="194.0" cy="883.0" r="3.6"/><circle cx="195.6" cy="883.4" r="4.0"/><circle cx="197.3" cy="882.5" r="3.5"/><circle cx="199.6" cy="882.7" r="3.6"/><circle cx="201.4" cy="884.7" r="4.0"/><circle cx="202.3" cy="883.4" r="3.4"/><circle cx="204.9" cy="884.8" r="3.6"/><circle cx="206.3" cy="882.9" r="3.9"/><circle cx="207.9" cy="884.7" r="3.9"/><circle cx="209.7" cy="883.7" r="3.4"/><circle cx="211.4" cy="883.6" r="3.4"/><circle cx="214.0" cy="882.5" r="3.4"/><circle cx="215.7" cy="883.5" r="4.0"/><circle cx="217.6" cy="884.1" r="3.5"/><circle cx="218.7" cy="884.6" r="3.9"/><circle cx="220.8" cy="882.2" r="4.0"/><circle cx="222.1" cy="883.5" r="3.6"/><circle cx="224.3" cy="882.9" r="3.5"/><circle cx="225.8" cy="883.1" r="4.0"/><circle cx="227.8" cy="884.5" r="3.8"/><circle cx="229.3" cy="884.2" r="3.5"/><circle cx="231.9" cy="882.5" r="3.9"/><circle cx="233.8" cy="884.1" r="3.6"/><circle cx="235.6" cy="883.0" r="3.5"/><circle cx="236.8" cy="883.3" r="3.4"/><circle cx="239.3" cy="883.8" r="3.9"/><circle cx="240.4" cy="883.4" r="4.0"/><circle cx="242.1" cy="882.4" r="3.8"/><circle cx="243.8" cy="884.6" r="4.0"/><circle cx="245.8" cy="884.9" r="3.4"/><circle cx="247.5" cy="883.0" r="3.5"/><circle cx="249.6" cy="882.8" r="3.7"/><circle cx="251.2" cy="885.0" r="4.0"/><circle cx="253.5" cy="884.6" r="4.0"/><circle cx="255.1" cy="884.9" r="3.6"/><circle cx="257.2" cy="883.9" r="3.5"/><circle cx="258.8" cy="882.7" r="3.7"/><circle cx="260.6" cy="884.2" r="3.7"/><circle cx="262.4" cy="885.1" r="4.0"/><circle cx="263.7" cy="883.8" r="3.5"/><circle cx="266.1" cy="884.4" r="3.9"/><circle cx="267.4" cy="885.4" r="3.9"/><circle cx="269.0" cy="887.5" r="3.9"/><circle cx="271.4" cy="887.4" r="3.9"/><circle cx="272.8" cy="888.7" r="3.8"/><circle cx="274.5" cy="889.2" r="3.6"/><circle cx="275.9" cy="888.6" r="3.6"/><circle cx="277.8" cy="890.6" r="3.6"/><circle cx="279.9" cy="888.7" r="3.9"/><circle cx="282.1" cy="890.5" r="3.4"/><circle cx="283.4" cy="887.0" r="3.5"/><circle cx="284.8" cy="885.9" r="3.9"/><circle cx="286.8" cy="885.3" r="3.5"/><circle cx="288.5" cy="885.5" r="3.4"/><circle cx="290.6" cy="887.1" r="3.4"/><circle cx="292.5" cy="885.6" r="3.7"/><circle cx="294.0" cy="885.7" r="3.6"/><circle cx="295.8" cy="885.0" r="4.0"/><circle cx="297.2" cy="884.6" r="4.0"/><circle cx="299.9" cy="884.0" r="4.0"/><circle cx="301.3" cy="885.4" r="3.5"/><circle cx="303.4" cy="884.2" r="3.4"/><circle cx="304.6" cy="884.4" r="3.4"/><circle cx="306.5" cy="884.9" r="3.7"/><circle cx="308.9" cy="886.1" r="3.8"/><circle cx="310.6" cy="883.8" r="3.7"/><circle cx="311.6" cy="885.7" r="3.5"/><circle cx="314.2" cy="885.1" r="3.6"/><circle cx="315.7" cy="883.8" r="3.8"/><circle cx="317.3" cy="886.4" r="3.8"/><circle cx="319.6" cy="886.2" r="3.9"/><circle cx="321.5" cy="884.6" r="3.9"/><circle cx="322.5" cy="884.3" r="3.8"/><circle cx="324.7" cy="885.8" r="3.4"/><circle cx="326.9" cy="886.0" r="3.9"/><circle cx="328.4" cy="886.1" r="3.6"/><circle cx="330.0" cy="885.5" r="3.7"/><circle cx="331.4" cy="886.2" r="3.6"/><circle cx="333.4" cy="886.6" r="3.9"/><circle cx="335.6" cy="884.9" r="3.5"/><circle cx="336.9" cy="884.8" r="3.5"/><circle cx="339.2" cy="886.0" r="3.5"/><circle cx="340.4" cy="884.3" r="3.5"/><circle cx="342.6" cy="885.8" r="4.0"/><circle cx="344.3" cy="884.8" r="3.8"/><circle cx="346.3" cy="884.2" r="3.6"/><circle cx="347.8" cy="885.5" r="3.6"/><circle cx="350.3" cy="886.0" r="4.0"/><circle cx="352.0" cy="885.6" r="3.7"/><circle cx="353.2" cy="885.0" r="3.5"/><circle cx="355.7" cy="886.3" r="3.9"/><circle cx="356.8" cy="884.4" r="3.8"/><circle cx="358.8" cy="886.2" r="4.0"/><circle cx="360.5" cy="885.1" r="3.4"/><circle cx="362.6" cy="887.0" r="3.7"/><circle cx="363.9" cy="884.5" r="3.9"/><circle cx="365.9" cy="885.6" r="3.9"/><circle cx="368.0" cy="885.0" r="4.0"/><circle cx="369.9" cy="886.5" r="3.4"/><circle cx="371.4" cy="885.1" r="3.6"/><circle cx="373.7" cy="885.4" r="3.4"/><circle cx="375.3" cy="885.2" r="3.5"/><circle cx="376.5" cy="886.7" r="4.0"/><circle cx="378.4" cy="887.2" r="3.8"/><circle cx="380.4" cy="885.1" r="4.0"/><circle cx="381.9" cy="885.7" r="3.6"/><circle cx="384.2" cy="887.1" r="4.0"/><circle cx="385.4" cy="885.5" r="3.7"/><circle cx="387.3" cy="887.1" r="3.5"/><circle cx="389.0" cy="884.5" r="3.9"/><circle cx="390.8" cy="885.4" r="4.0"/><circle cx="393.4" cy="886.7" r="3.4"/><circle cx="395.0" cy="887.0" r="3.8"/><circle cx="397.0" cy="885.1" r="3.8"/><circle cx="397.7" cy="886.7" r="3.5"/></g>
</g>
<g>
<path d="M397.9 884.4 L398.6 883.1 L400.0 882.8 L400.4 878.3 L401.2 876.9 L401.7 872.2 L402.4 870.2 L403.5 864.4 L403.7 862.0 L404.9 859.3 L405.0 854.4 L406.4 851.8 L406.8 849.0 L408.4 846.6 L408.8 844.2 L409.2 844.0" fill="none" stroke="#0A70C6" stroke-width="4.50" stroke-linejoin="round" stroke-linecap="round" />
<g fill="#0A70C6"><circle cx="397.9" cy="884.4" r="4.7"/><circle cx="398.6" cy="883.1" r="4.3"/><circle cx="400.0" cy="882.8" r="4.2"/><circle cx="400.4" cy="878.3" r="4.6"/><circle cx="401.2" cy="876.9" r="4.2"/><circle cx="401.7" cy="872.2" r="4.1"/><circle cx="402.4" cy="870.2" r="4.7"/><circle cx="403.5" cy="864.4" r="4.3"/><circle cx="403.7" cy="862.0" r="4.6"/><circle cx="404.9" cy="859.3" r="4.3"/><circle cx="405.0" cy="854.4" r="4.7"/><circle cx="406.4" cy="851.8" r="4.4"/><circle cx="406.8" cy="849.0" r="4.2"/><circle cx="408.4" cy="846.6" r="4.1"/><circle cx="408.8" cy="844.2" r="4.4"/><circle cx="409.2" cy="844.0" r="4.5"/></g>
</g>
<path d="M109.0 888.6 L166.0 888.2" fill="none" stroke="#6D2AA8" stroke-width="4.20" stroke-linejoin="round" stroke-linecap="round" />
<g>
<path d="M166.3 887.4 L168.1 887.9 L170.0 887.5 L171.8 888.2 L174.3 887.4 L176.0 888.8 L178.3 887.5 L179.7 889.0 L182.3 888.1 L183.7 888.9 L185.9 888.9 L188.1 888.7 L189.8 888.6 L191.8 887.9 L194.2 888.7 L195.8 887.5 L197.9 888.0 L199.9 887.2 L201.8 888.4 L204.3 887.1 L206.0 888.5 L207.7 888.6 L209.7 888.1 L212.0 888.2 L213.8 887.7 L216.0 887.7 L218.1 887.8 L219.9 886.9 L222.1 887.8 L223.8 888.4 L226.2 887.7 L227.8 887.8 L229.7 887.0 L231.9 887.0 L233.9 887.8 L235.7 888.0 L237.7 888.2 L240.2 887.7 L241.7 887.7 L243.9 888.6 L245.7 888.4 L248.3 888.1 L250.2 887.0 L252.3 887.6 L254.3 888.5 L255.7 888.2 L258.3 886.7 L259.9 888.1 L261.7 888.4 L263.8 888.2 L265.7 887.5 L268.3 886.9 L269.8 887.5 L271.8 886.6 L273.7 886.8 L276.3 887.8 L278.2 886.8 L280.2 886.7 L282.0 887.7 L283.9 888.2 L286.0 887.6 L288.2 886.6 L290.3 887.6 L291.9 888.0 L293.8 888.3 L296.0 887.0 L298.1 887.2 L299.7 887.8 L301.6 887.9 L303.8 887.6 L306.3 887.4 L308.1 886.9 L309.6 886.3 L311.7 887.5 L313.9 887.3 L316.2 886.5 L317.8 887.5 L319.6 886.2 L321.8 886.4 L323.8 886.6 L326.0 887.3 L327.7 887.4 L329.9 886.4 L332.3 886.6 L333.7 886.3 L336.0 887.9 L338.1 886.9 L339.8 886.1 L342.0 887.2 L343.8 887.4 L345.9 887.9 L348.1 886.6 L350.2 886.1 L352.0 886.9 L353.8 886.1 L356.1 886.0 L358.0 887.9 L359.7 886.4 L362.0 887.0 L364.0 887.7 L365.7 886.7 L367.8 886.2 L370.2 887.7 L372.1 886.2 L374.2 887.7 L375.9 887.7 L377.9 886.7 L379.6 886.8 L381.6 887.0 L384.1 887.7 L386.2 887.8 L387.8 887.5 L389.9 888.0 L391.9 887.0 L394.0 888.4 L395.7 888.3 L397.6 887.1 L399.7 888.1 L402.2 888.1 L403.8 888.4 L405.8 887.2 L408.2 888.0 L410.0 888.1 L412.2 887.7 L414.1 888.2 L416.1 887.7 L418.1 888.0 L419.8 887.3 L422.0 887.1 L424.2 887.2 L425.6 887.2 L428.2 887.7 L429.6 887.1 L431.6 888.5 L434.0 888.5 L436.0 887.3 L437.9 887.9 L440.1 888.8 L442.2 887.3 L444.1 888.9 L446.2 887.2 L447.7 887.2 L449.5 888.6 L452.1 888.1 L454.1 888.0 L455.7 886.9 L457.6 888.2 L459.3 887.2" fill="none" stroke="#6D2AA8" stroke-width="3.60" stroke-linejoin="round" stroke-linecap="round" />
<g fill="#6D2AA8"><circle cx="166.3" cy="887.4" r="2.7"/><circle cx="168.1" cy="887.9" r="2.5"/><circle cx="170.0" cy="887.5" r="2.6"/><circle cx="171.8" cy="888.2" r="2.6"/><circle cx="174.3" cy="887.4" r="3.0"/><circle cx="176.0" cy="888.8" r="2.7"/><circle cx="178.3" cy="887.5" r="2.7"/><circle cx="179.7" cy="889.0" r="3.1"/><circle cx="182.3" cy="888.1" r="2.8"/><circle cx="183.7" cy="888.9" r="3.0"/><circle cx="185.9" cy="888.9" r="2.9"/><circle cx="188.1" cy="888.7" r="2.5"/><circle cx="189.8" cy="888.6" r="2.7"/><circle cx="191.8" cy="887.9" r="2.8"/><circle cx="194.2" cy="888.7" r="3.0"/><circle cx="195.8" cy="887.5" r="2.7"/><circle cx="197.9" cy="888.0" r="2.9"/><circle cx="199.9" cy="887.2" r="2.8"/><circle cx="201.8" cy="888.4" r="2.6"/><circle cx="204.3" cy="887.1" r="3.1"/><circle cx="206.0" cy="888.5" r="2.5"/><circle cx="207.7" cy="888.6" r="3.0"/><circle cx="209.7" cy="888.1" r="2.6"/><circle cx="212.0" cy="888.2" r="2.5"/><circle cx="213.8" cy="887.7" r="2.6"/><circle cx="216.0" cy="887.7" r="3.0"/><circle cx="218.1" cy="887.8" r="3.1"/><circle cx="219.9" cy="886.9" r="2.5"/><circle cx="222.1" cy="887.8" r="2.8"/><circle cx="223.8" cy="888.4" r="2.8"/><circle cx="226.2" cy="887.7" r="3.0"/><circle cx="227.8" cy="887.8" r="2.6"/><circle cx="229.7" cy="887.0" r="2.8"/><circle cx="231.9" cy="887.0" r="2.7"/><circle cx="233.9" cy="887.8" r="3.0"/><circle cx="235.7" cy="888.0" r="2.6"/><circle cx="237.7" cy="888.2" r="3.1"/><circle cx="240.2" cy="887.7" r="2.6"/><circle cx="241.7" cy="887.7" r="2.6"/><circle cx="243.9" cy="888.6" r="2.9"/><circle cx="245.7" cy="888.4" r="2.8"/><circle cx="248.3" cy="888.1" r="2.5"/><circle cx="250.2" cy="887.0" r="2.9"/><circle cx="252.3" cy="887.6" r="2.5"/><circle cx="254.3" cy="888.5" r="3.0"/><circle cx="255.7" cy="888.2" r="2.9"/><circle cx="258.3" cy="886.7" r="3.0"/><circle cx="259.9" cy="888.1" r="2.9"/><circle cx="261.7" cy="888.4" r="2.7"/><circle cx="263.8" cy="888.2" r="2.7"/><circle cx="265.7" cy="887.5" r="2.7"/><circle cx="268.3" cy="886.9" r="3.1"/><circle cx="269.8" cy="887.5" r="2.5"/><circle cx="271.8" cy="886.6" r="3.1"/><circle cx="273.7" cy="886.8" r="2.5"/><circle cx="276.3" cy="887.8" r="2.6"/><circle cx="278.2" cy="886.8" r="2.6"/><circle cx="280.2" cy="886.7" r="3.1"/><circle cx="282.0" cy="887.7" r="2.8"/><circle cx="283.9" cy="888.2" r="2.7"/><circle cx="286.0" cy="887.6" r="3.1"/><circle cx="288.2" cy="886.6" r="2.6"/><circle cx="290.3" cy="887.6" r="2.8"/><circle cx="291.9" cy="888.0" r="2.8"/><circle cx="293.8" cy="888.3" r="3.0"/><circle cx="296.0" cy="887.0" r="3.0"/><circle cx="298.1" cy="887.2" r="2.9"/><circle cx="299.7" cy="887.8" r="2.7"/><circle cx="301.6" cy="887.9" r="2.7"/><circle cx="303.8" cy="887.6" r="2.6"/><circle cx="306.3" cy="887.4" r="3.0"/><circle cx="308.1" cy="886.9" r="2.9"/><circle cx="309.6" cy="886.3" r="3.0"/><circle cx="311.7" cy="887.5" r="2.6"/><circle cx="313.9" cy="887.3" r="2.8"/><circle cx="316.2" cy="886.5" r="3.0"/><circle cx="317.8" cy="887.5" r="2.9"/><circle cx="319.6" cy="886.2" r="2.5"/><circle cx="321.8" cy="886.4" r="2.8"/><circle cx="323.8" cy="886.6" r="3.1"/><circle cx="326.0" cy="887.3" r="2.6"/><circle cx="327.7" cy="887.4" r="2.6"/><circle cx="329.9" cy="886.4" r="2.7"/><circle cx="332.3" cy="886.6" r="2.9"/><circle cx="333.7" cy="886.3" r="3.0"/><circle cx="336.0" cy="887.9" r="2.6"/><circle cx="338.1" cy="886.9" r="2.6"/><circle cx="339.8" cy="886.1" r="2.6"/><circle cx="342.0" cy="887.2" r="2.7"/><circle cx="343.8" cy="887.4" r="2.8"/><circle cx="345.9" cy="887.9" r="2.6"/><circle cx="348.1" cy="886.6" r="2.7"/><circle cx="350.2" cy="886.1" r="2.6"/><circle cx="352.0" cy="886.9" r="3.1"/><circle cx="353.8" cy="886.1" r="3.0"/><circle cx="356.1" cy="886.0" r="2.5"/><circle cx="358.0" cy="887.9" r="3.1"/><circle cx="359.7" cy="886.4" r="2.5"/><circle cx="362.0" cy="887.0" r="2.7"/><circle cx="364.0" cy="887.7" r="3.1"/><circle cx="365.7" cy="886.7" r="3.0"/><circle cx="367.8" cy="886.2" r="3.0"/><circle cx="370.2" cy="887.7" r="2.8"/><circle cx="372.1" cy="886.2" r="2.6"/><circle cx="374.2" cy="887.7" r="2.9"/><circle cx="375.9" cy="887.7" r="2.5"/><circle cx="377.9" cy="886.7" r="2.6"/><circle cx="379.6" cy="886.8" r="2.7"/><circle cx="381.6" cy="887.0" r="2.5"/><circle cx="384.1" cy="887.7" r="2.7"/><circle cx="386.2" cy="887.8" r="3.0"/><circle cx="387.8" cy="887.5" r="2.9"/><circle cx="389.9" cy="888.0" r="2.8"/><circle cx="391.9" cy="887.0" r="2.9"/><circle cx="394.0" cy="888.4" r="2.8"/><circle cx="395.7" cy="888.3" r="2.5"/><circle cx="397.6" cy="887.1" r="2.9"/><circle cx="399.7" cy="888.1" r="2.7"/><circle cx="402.2" cy="888.1" r="3.0"/><circle cx="403.8" cy="888.4" r="3.1"/><circle cx="405.8" cy="887.2" r="2.8"/><circle cx="408.2" cy="888.0" r="2.9"/><circle cx="410.0" cy="888.1" r="3.0"/><circle cx="412.2" cy="887.7" r="2.7"/><circle cx="414.1" cy="888.2" r="2.6"/><circle cx="416.1" cy="887.7" r="3.0"/><circle cx="418.1" cy="888.0" r="3.1"/><circle cx="419.8" cy="887.3" r="3.0"/><circle cx="422.0" cy="887.1" r="2.9"/><circle cx="424.2" cy="887.2" r="3.0"/><circle cx="425.6" cy="887.2" r="2.9"/><circle cx="428.2" cy="887.7" r="2.9"/><circle cx="429.6" cy="887.1" r="2.8"/><circle cx="431.6" cy="888.5" r="2.7"/><circle cx="434.0" cy="888.5" r="2.9"/><circle cx="436.0" cy="887.3" r="2.5"/><circle cx="437.9" cy="887.9" r="2.7"/><circle cx="440.1" cy="888.8" r="3.0"/><circle cx="442.2" cy="887.3" r="2.9"/><circle cx="444.1" cy="888.9" r="2.9"/><circle cx="446.2" cy="887.2" r="2.6"/><circle cx="447.7" cy="887.2" r="2.7"/><circle cx="449.5" cy="888.6" r="2.8"/><circle cx="452.1" cy="888.1" r="2.9"/><circle cx="454.1" cy="888.0" r="2.7"/><circle cx="455.7" cy="886.9" r="2.9"/><circle cx="457.6" cy="888.2" r="3.1"/><circle cx="459.3" cy="887.2" r="2.6"/></g>
</g>
<g>
<path d="M459.7 888.3 L459.9 880.8 L461.4 872.1 L461.2 865.6 L462.3 863.7 L463.0 856.6 L464.1 855.4 L465.4 852.0 L466.4 850.2 L467.3 845.0 L469.1 840.9 L469.7 838.5 L470.9 834.0 L472.4 831.9 L471.8 827.6 L473.4 822.5 L474.4 820.5 L475.8 816.4 L476.4 813.8 L478.5 815.1 L479.4 809.7 L481.1 808.5 L481.4 805.2 L483.4 805.2 L484.3 800.5 L485.3 796.3 L487.0 793.7 L487.6 792.8 L488.9 790.7 L489.0 795.5 L489.6 801.2 L491.1 802.7 L492.2 798.6 L493.5 796.8 L494.6 792.9 L496.4 789.9 L496.3 783.9 L497.3 778.4 L498.2 773.3 L498.6 770.3 L500.7 764.6 L502.0 766.8 L503.3 761.6 L504.7 764.3 L504.7 763.4 L507.5 768.4 L507.6 767.7 L508.7 770.3 L511.0 772.8 L511.3 774.6 L513.6 769.1 L515.0 769.1 L516.1 767.3 L517.6 765.8 L517.8 755.3 L517.6 746.8 L518.9 747.7 L520.4 750.3 L520.7 750.9 L521.7 754.1 L522.9 756.0 L524.2 753.5 L525.9 750.7 L527.6 745.3 L528.6 744.4 L529.3 742.3 L530.9 738.0 L531.3 737.8 L532.0 733.9 L534.1 728.6 L535.3 729.2 L537.0 725.2 L538.1 722.2 L538.3 720.0 L538.5 715.3 L540.4 710.0 L541.4 716.2 L541.4 723.0 L543.3 722.8 L544.2 724.7 L545.8 727.6 L546.9 728.5 L548.5 728.0 L549.5 726.3 L551.8 724.0 L552.6 719.5 L552.8 715.6 L553.9 711.4 L555.0 703.1 L555.6 701.3 L555.9 691.2 L556.0 684.4 L556.4 681.8 L557.5 673.3 L558.3 667.6 L558.6 660.3 L559.5 655.9 L560.3 651.1 L560.5 646.3 L561.6 640.9 L561.4 630.7 L562.4 630.4 L564.9 626.9 L565.2 624.6 L567.0 620.4 L566.8 613.6 L567.7 607.7 L568.4 603.2 L568.5 596.2 L568.7 593.4 L569.2 594.5 L570.8 590.8 L570.6 576.7 L571.3 574.4 L573.1 572.4 L573.7 571.4 L574.3 575.4 L575.1 579.1 L575.5 583.6 L577.4 588.9 L578.8 592.0 L579.9 589.7 L579.3 587.4 L580.4 582.5 L581.1 573.8 L582.7 571.4 L583.6 565.9 L583.0 559.3 L584.6 552.5 L585.8 547.0 L586.9 550.3 L586.2 551.8 L587.2 564.2" fill="none" stroke="#6D2AA8" stroke-width="3.60" stroke-linejoin="round" stroke-linecap="round" />
<g fill="#6D2AA8"><circle cx="459.7" cy="888.3" r="3.4"/><circle cx="459.9" cy="880.8" r="3.6"/><circle cx="461.4" cy="872.1" r="3.9"/><circle cx="461.2" cy="865.6" r="3.5"/><circle cx="462.3" cy="863.7" r="4.0"/><circle cx="463.0" cy="856.6" r="3.7"/><circle cx="464.1" cy="855.4" r="3.4"/><circle cx="465.4" cy="852.0" r="3.6"/><circle cx="466.4" cy="850.2" r="3.8"/><circle cx="467.3" cy="845.0" r="3.7"/><circle cx="469.1" cy="840.9" r="3.8"/><circle cx="469.7" cy="838.5" r="3.5"/><circle cx="470.9" cy="834.0" r="3.9"/><circle cx="472.4" cy="831.9" r="3.6"/><circle cx="471.8" cy="827.6" r="3.8"/><circle cx="473.4" cy="822.5" r="3.8"/><circle cx="474.4" cy="820.5" r="3.6"/><circle cx="475.8" cy="816.4" r="3.6"/><circle cx="476.4" cy="813.8" r="3.9"/><circle cx="478.5" cy="815.1" r="4.0"/><circle cx="479.4" cy="809.7" r="3.9"/><circle cx="481.1" cy="808.5" r="3.7"/><circle cx="481.4" cy="805.2" r="3.6"/><circle cx="483.4" cy="805.2" r="3.4"/><circle cx="484.3" cy="800.5" r="4.0"/><circle cx="485.3" cy="796.3" r="3.8"/><circle cx="487.0" cy="793.7" r="3.9"/><circle cx="487.6" cy="792.8" r="3.6"/><circle cx="488.9" cy="790.7" r="3.8"/><circle cx="489.0" cy="795.5" r="4.0"/><circle cx="489.6" cy="801.2" r="3.9"/><circle cx="491.1" cy="802.7" r="3.8"/><circle cx="492.2" cy="798.6" r="3.6"/><circle cx="493.5" cy="796.8" r="3.6"/><circle cx="494.6" cy="792.9" r="4.0"/><circle cx="496.4" cy="789.9" r="3.6"/><circle cx="496.3" cy="783.9" r="3.8"/><circle cx="497.3" cy="778.4" r="3.8"/><circle cx="498.2" cy="773.3" r="4.0"/><circle cx="498.6" cy="770.3" r="3.9"/><circle cx="500.7" cy="764.6" r="3.5"/><circle cx="502.0" cy="766.8" r="3.4"/><circle cx="503.3" cy="761.6" r="3.5"/><circle cx="504.7" cy="764.3" r="3.6"/><circle cx="504.7" cy="763.4" r="3.8"/><circle cx="507.5" cy="768.4" r="3.9"/><circle cx="507.6" cy="767.7" r="4.0"/><circle cx="508.7" cy="770.3" r="3.4"/><circle cx="511.0" cy="772.8" r="3.9"/><circle cx="511.3" cy="774.6" r="3.9"/><circle cx="513.6" cy="769.1" r="4.0"/><circle cx="515.0" cy="769.1" r="3.8"/><circle cx="516.1" cy="767.3" r="3.5"/><circle cx="517.6" cy="765.8" r="3.9"/><circle cx="517.8" cy="755.3" r="3.9"/><circle cx="517.6" cy="746.8" r="3.8"/><circle cx="518.9" cy="747.7" r="4.0"/><circle cx="520.4" cy="750.3" r="3.6"/><circle cx="520.7" cy="750.9" r="3.4"/><circle cx="521.7" cy="754.1" r="3.7"/><circle cx="522.9" cy="756.0" r="3.9"/><circle cx="524.2" cy="753.5" r="3.5"/><circle cx="525.9" cy="750.7" r="3.9"/><circle cx="527.6" cy="745.3" r="4.0"/><circle cx="528.6" cy="744.4" r="3.5"/><circle cx="529.3" cy="742.3" r="3.8"/><circle cx="530.9" cy="738.0" r="3.8"/><circle cx="531.3" cy="737.8" r="3.7"/><circle cx="532.0" cy="733.9" r="3.5"/><circle cx="534.1" cy="728.6" r="3.5"/><circle cx="535.3" cy="729.2" r="3.9"/><circle cx="537.0" cy="725.2" r="3.9"/><circle cx="538.1" cy="722.2" r="3.7"/><circle cx="538.3" cy="720.0" r="3.4"/><circle cx="538.5" cy="715.3" r="3.9"/><circle cx="540.4" cy="710.0" r="3.9"/><circle cx="541.4" cy="716.2" r="3.5"/><circle cx="541.4" cy="723.0" r="3.8"/><circle cx="543.3" cy="722.8" r="4.0"/><circle cx="544.2" cy="724.7" r="4.0"/><circle cx="545.8" cy="727.6" r="3.7"/><circle cx="546.9" cy="728.5" r="3.7"/><circle cx="548.5" cy="728.0" r="3.8"/><circle cx="549.5" cy="726.3" r="3.5"/><circle cx="551.8" cy="724.0" r="3.5"/><circle cx="552.6" cy="719.5" r="3.5"/><circle cx="552.8" cy="715.6" r="3.8"/><circle cx="553.9" cy="711.4" r="3.6"/><circle cx="555.0" cy="703.1" r="3.7"/><circle cx="555.6" cy="701.3" r="3.6"/><circle cx="555.9" cy="691.2" r="3.7"/><circle cx="556.0" cy="684.4" r="3.5"/><circle cx="556.4" cy="681.8" r="3.4"/><circle cx="557.5" cy="673.3" r="4.0"/><circle cx="558.3" cy="667.6" r="3.6"/><circle cx="558.6" cy="660.3" r="3.4"/><circle cx="559.5" cy="655.9" r="3.8"/><circle cx="560.3" cy="651.1" r="3.9"/><circle cx="560.5" cy="646.3" r="3.5"/><circle cx="561.6" cy="640.9" r="3.8"/><circle cx="561.4" cy="630.7" r="3.6"/><circle cx="562.4" cy="630.4" r="3.7"/><circle cx="564.9" cy="626.9" r="3.4"/><circle cx="565.2" cy="624.6" r="3.4"/><circle cx="567.0" cy="620.4" r="4.0"/><circle cx="566.8" cy="613.6" r="4.0"/><circle cx="567.7" cy="607.7" r="3.7"/><circle cx="568.4" cy="603.2" r="3.7"/><circle cx="568.5" cy="596.2" r="3.5"/><circle cx="568.7" cy="593.4" r="3.9"/><circle cx="569.2" cy="594.5" r="3.6"/><circle cx="570.8" cy="590.8" r="4.0"/><circle cx="570.6" cy="576.7" r="3.9"/><circle cx="571.3" cy="574.4" r="3.9"/><circle cx="573.1" cy="572.4" r="4.0"/><circle cx="573.7" cy="571.4" r="3.5"/><circle cx="574.3" cy="575.4" r="3.4"/><circle cx="575.1" cy="579.1" r="3.5"/><circle cx="575.5" cy="583.6" r="3.5"/><circle cx="577.4" cy="588.9" r="3.4"/><circle cx="578.8" cy="592.0" r="3.4"/><circle cx="579.9" cy="589.7" r="3.7"/><circle cx="579.3" cy="587.4" r="4.0"/><circle cx="580.4" cy="582.5" r="3.7"/><circle cx="581.1" cy="573.8" r="4.0"/><circle cx="582.7" cy="571.4" r="4.0"/><circle cx="583.6" cy="565.9" r="3.4"/><circle cx="583.0" cy="559.3" r="3.8"/><circle cx="584.6" cy="552.5" r="3.6"/><circle cx="585.8" cy="547.0" r="3.4"/><circle cx="586.9" cy="550.3" r="4.0"/><circle cx="586.2" cy="551.8" r="3.5"/><circle cx="587.2" cy="564.2" r="3.7"/></g>
</g>
<g>
<path d="M109.1 889.0 L110.8 884.7 L112.3 881.3 L114.3 880.8 L115.5 876.4 L117.2 875.5 L119.4 875.2 L121.1 872.1 L122.8 872.8 L124.5 872.9 L125.8 870.9 L128.2 872.6 L129.9 871.2 L131.6 872.5 L133.0 872.0 L134.9 872.0 L136.9 872.3 L138.5 872.5 L140.6 872.4 L142.5 872.8 L143.7 874.4 L145.7 874.5 L148.0 874.4 L149.2 873.4 L151.0 874.4 L153.3 873.8 L154.8 873.3 L156.9 873.6 L158.6 873.0 L160.0 873.0 L162.2 875.0 L163.5 876.7 L165.4 875.9 L167.1 875.8 L169.4 876.1 L170.7 876.3 L172.6 876.8 L174.2 876.6 L175.9 876.0 L178.2 874.1 L179.8 873.9 L181.4 873.4 L183.3 874.8 L185.6 874.3 L186.7 872.6 L189.1 872.0 L190.7 872.4 L192.7 871.7 L194.4 872.3 L195.7 871.4 L198.0 872.5 L199.3 872.1 L201.6 871.6 L203.2 871.3 L204.7 872.6 L206.9 871.8 L208.1 872.0 L210.3 873.3 L211.8 873.4 L213.9 875.3 L215.8 875.9 L217.0 875.7 L219.2 877.0 L221.0 876.5 L222.9 877.4 L224.7 878.9 L226.2 877.3 L228.3 878.6 L230.0 878.4 L231.3 879.7 L233.3 878.3 L235.1 879.2 L236.6 879.0 L238.7 879.0 L240.3 879.5 L242.6 879.8 L244.0 879.5 L245.9 879.6 L247.4 879.7 L249.9 878.8 L251.4 878.8 L253.2 877.5 L255.3 877.9 L256.5 877.5 L258.3 878.8 L259.9 876.4 L262.2 875.8 L263.4 876.0 L265.6 875.2 L267.5 874.1 L269.4 875.4 L270.6 874.1 L272.7 874.9 L274.4 874.0 L276.3 874.0 L278.2 875.5 L279.7 874.9 L281.9 873.9 L283.8 875.6 L285.3 874.4 L287.4 874.6 L288.9 875.5 L290.9 874.1 L292.3 874.0 L294.3 875.4 L296.4 875.1 L298.2 874.9 L299.4 874.1 L301.9 874.9 L303.1 873.7 L305.2 873.5 L306.9 872.8 L308.6 873.6 L310.1 872.7 L312.6 874.0 L314.4 873.6 L316.1 874.1 L318.0 872.1 L319.6 872.5 L321.4 872.5 L323.1 873.9 L325.0 872.5 L326.7 872.9 L328.8 872.5 L330.1 873.3 L331.8 873.2 L334.2 873.0 L335.5 872.9 L337.5 872.2 L339.0 872.2 L340.9 872.8 L342.7 872.4 L344.3 873.0 L346.7 873.1 L348.3 873.1 L349.8 873.2 L351.8 872.7 L353.7 872.5 L355.3 871.9 L357.0 872.3 L358.9 872.3 L360.4 871.6 L362.9 871.1 L364.4 871.8 L366.0 873.4 L367.8 873.3 L369.4 872.3 L371.7 874.5 L372.8 876.0 L374.8 878.1 L376.3 878.2 L378.7 880.2 L379.9 879.3 L381.9 880.1 L383.8 879.1 L385.7 877.0 L387.3 874.5 L388.9 870.2 L390.5 867.1 L391.9 854.1 L392.0 851.3" fill="none" stroke="#37601E" stroke-width="3.60" stroke-linejoin="round" stroke-linecap="round" />
<g fill="#37601E"><circle cx="109.1" cy="889.0" r="3.6"/><circle cx="110.8" cy="884.7" r="3.5"/><circle cx="112.3" cy="881.3" r="3.4"/><circle cx="114.3" cy="880.8" r="3.7"/><circle cx="115.5" cy="876.4" r="3.5"/><circle cx="117.2" cy="875.5" r="3.3"/><circle cx="119.4" cy="875.2" r="3.6"/><circle cx="121.1" cy="872.1" r="3.7"/><circle cx="122.8" cy="872.8" r="3.5"/><circle cx="124.5" cy="872.9" r="3.3"/><circle cx="125.8" cy="870.9" r="3.4"/><circle cx="128.2" cy="872.6" r="3.4"/><circle cx="129.9" cy="871.2" r="3.6"/><circle cx="131.6" cy="872.5" r="3.3"/><circle cx="133.0" cy="872.0" r="3.3"/><circle cx="134.9" cy="872.0" r="3.4"/><circle cx="136.9" cy="872.3" r="3.3"/><circle cx="138.5" cy="872.5" r="3.3"/><circle cx="140.6" cy="872.4" r="3.6"/><circle cx="142.5" cy="872.8" r="3.6"/><circle cx="143.7" cy="874.4" r="3.4"/><circle cx="145.7" cy="874.5" r="3.4"/><circle cx="148.0" cy="874.4" r="3.2"/><circle cx="149.2" cy="873.4" r="3.3"/><circle cx="151.0" cy="874.4" r="3.2"/><circle cx="153.3" cy="873.8" r="3.5"/><circle cx="154.8" cy="873.3" r="3.5"/><circle cx="156.9" cy="873.6" r="3.1"/><circle cx="158.6" cy="873.0" r="3.7"/><circle cx="160.0" cy="873.0" r="3.3"/><circle cx="162.2" cy="875.0" r="3.6"/><circle cx="163.5" cy="876.7" r="3.6"/><circle cx="165.4" cy="875.9" r="3.7"/><circle cx="167.1" cy="875.8" r="3.2"/><circle cx="169.4" cy="876.1" r="3.3"/><circle cx="170.7" cy="876.3" r="3.7"/><circle cx="172.6" cy="876.8" r="3.1"/><circle cx="174.2" cy="876.6" r="3.1"/><circle cx="175.9" cy="876.0" r="3.4"/><circle cx="178.2" cy="874.1" r="3.4"/><circle cx="179.8" cy="873.9" r="3.7"/><circle cx="181.4" cy="873.4" r="3.6"/><circle cx="183.3" cy="874.8" r="3.4"/><circle cx="185.6" cy="874.3" r="3.7"/><circle cx="186.7" cy="872.6" r="3.4"/><circle cx="189.1" cy="872.0" r="3.4"/><circle cx="190.7" cy="872.4" r="3.5"/><circle cx="192.7" cy="871.7" r="3.3"/><circle cx="194.4" cy="872.3" r="3.3"/><circle cx="195.7" cy="871.4" r="3.5"/><circle cx="198.0" cy="872.5" r="3.3"/><circle cx="199.3" cy="872.1" r="3.7"/><circle cx="201.6" cy="871.6" r="3.5"/><circle cx="203.2" cy="871.3" r="3.4"/><circle cx="204.7" cy="872.6" r="3.1"/><circle cx="206.9" cy="871.8" r="3.3"/><circle cx="208.1" cy="872.0" r="3.3"/><circle cx="210.3" cy="873.3" r="3.4"/><circle cx="211.8" cy="873.4" r="3.5"/><circle cx="213.9" cy="875.3" r="3.7"/><circle cx="215.8" cy="875.9" r="3.7"/><circle cx="217.0" cy="875.7" r="3.4"/><circle cx="219.2" cy="877.0" r="3.4"/><circle cx="221.0" cy="876.5" r="3.5"/><circle cx="222.9" cy="877.4" r="3.7"/><circle cx="224.7" cy="878.9" r="3.3"/><circle cx="226.2" cy="877.3" r="3.4"/><circle cx="228.3" cy="878.6" r="3.6"/><circle cx="230.0" cy="878.4" r="3.2"/><circle cx="231.3" cy="879.7" r="3.3"/><circle cx="233.3" cy="878.3" r="3.7"/><circle cx="235.1" cy="879.2" r="3.6"/><circle cx="236.6" cy="879.0" r="3.4"/><circle cx="238.7" cy="879.0" r="3.1"/><circle cx="240.3" cy="879.5" r="3.7"/><circle cx="242.6" cy="879.8" r="3.5"/><circle cx="244.0" cy="879.5" r="3.6"/><circle cx="245.9" cy="879.6" r="3.7"/><circle cx="247.4" cy="879.7" r="3.7"/><circle cx="249.9" cy="878.8" r="3.3"/><circle cx="251.4" cy="878.8" r="3.2"/><circle cx="253.2" cy="877.5" r="3.3"/><circle cx="255.3" cy="877.9" r="3.4"/><circle cx="256.5" cy="877.5" r="3.4"/><circle cx="258.3" cy="878.8" r="3.2"/><circle cx="259.9" cy="876.4" r="3.2"/><circle cx="262.2" cy="875.8" r="3.5"/><circle cx="263.4" cy="876.0" r="3.5"/><circle cx="265.6" cy="875.2" r="3.3"/><circle cx="267.5" cy="874.1" r="3.7"/><circle cx="269.4" cy="875.4" r="3.5"/><circle cx="270.6" cy="874.1" r="3.1"/><circle cx="272.7" cy="874.9" r="3.3"/><circle cx="274.4" cy="874.0" r="3.6"/><circle cx="276.3" cy="874.0" r="3.3"/><circle cx="278.2" cy="875.5" r="3.5"/><circle cx="279.7" cy="874.9" r="3.1"/><circle cx="281.9" cy="873.9" r="3.3"/><circle cx="283.8" cy="875.6" r="3.6"/><circle cx="285.3" cy="874.4" r="3.5"/><circle cx="287.4" cy="874.6" r="3.5"/><circle cx="288.9" cy="875.5" r="3.2"/><circle cx="290.9" cy="874.1" r="3.4"/><circle cx="292.3" cy="874.0" r="3.4"/><circle cx="294.3" cy="875.4" r="3.2"/><circle cx="296.4" cy="875.1" r="3.5"/><circle cx="298.2" cy="874.9" r="3.4"/><circle cx="299.4" cy="874.1" r="3.7"/><circle cx="301.9" cy="874.9" r="3.5"/><circle cx="303.1" cy="873.7" r="3.3"/><circle cx="305.2" cy="873.5" r="3.1"/><circle cx="306.9" cy="872.8" r="3.2"/><circle cx="308.6" cy="873.6" r="3.6"/><circle cx="310.1" cy="872.7" r="3.1"/><circle cx="312.6" cy="874.0" r="3.1"/><circle cx="314.4" cy="873.6" r="3.2"/><circle cx="316.1" cy="874.1" r="3.4"/><circle cx="318.0" cy="872.1" r="3.6"/><circle cx="319.6" cy="872.5" r="3.5"/><circle cx="321.4" cy="872.5" r="3.6"/><circle cx="323.1" cy="873.9" r="3.1"/><circle cx="325.0" cy="872.5" r="3.1"/><circle cx="326.7" cy="872.9" r="3.6"/><circle cx="328.8" cy="872.5" r="3.3"/><circle cx="330.1" cy="873.3" r="3.6"/><circle cx="331.8" cy="873.2" r="3.3"/><circle cx="334.2" cy="873.0" r="3.2"/><circle cx="335.5" cy="872.9" r="3.2"/><circle cx="337.5" cy="872.2" r="3.1"/><circle cx="339.0" cy="872.2" r="3.7"/><circle cx="340.9" cy="872.8" r="3.5"/><circle cx="342.7" cy="872.4" r="3.3"/><circle cx="344.3" cy="873.0" r="3.4"/><circle cx="346.7" cy="873.1" r="3.3"/><circle cx="348.3" cy="873.1" r="3.1"/><circle cx="349.8" cy="873.2" r="3.7"/><circle cx="351.8" cy="872.7" r="3.5"/><circle cx="353.7" cy="872.5" r="3.7"/><circle cx="355.3" cy="871.9" r="3.4"/><circle cx="357.0" cy="872.3" r="3.5"/><circle cx="358.9" cy="872.3" r="3.2"/><circle cx="360.4" cy="871.6" r="3.1"/><circle cx="362.9" cy="871.1" r="3.7"/><circle cx="364.4" cy="871.8" r="3.6"/><circle cx="366.0" cy="873.4" r="3.3"/><circle cx="367.8" cy="873.3" r="3.7"/><circle cx="369.4" cy="872.3" r="3.6"/><circle cx="371.7" cy="874.5" r="3.3"/><circle cx="372.8" cy="876.0" r="3.5"/><circle cx="374.8" cy="878.1" r="3.7"/><circle cx="376.3" cy="878.2" r="3.4"/><circle cx="378.7" cy="880.2" r="3.7"/><circle cx="379.9" cy="879.3" r="3.2"/><circle cx="381.9" cy="880.1" r="3.3"/><circle cx="383.8" cy="879.1" r="3.6"/><circle cx="385.7" cy="877.0" r="3.2"/><circle cx="387.3" cy="874.5" r="3.3"/><circle cx="388.9" cy="870.2" r="3.7"/><circle cx="390.5" cy="867.1" r="3.4"/><circle cx="391.9" cy="854.1" r="3.6"/><circle cx="392.0" cy="851.3" r="3.2"/></g>
</g>
<g>
<path d="M391.4 852.0 L392.1 847.0 L392.8 838.9 L393.5 833.1 L394.6 827.4 L395.2 821.3 L396.8 816.8 L397.3 812.5 L398.3 808.8 L399.1 806.3 L400.5 801.1 L402.0 797.6 L402.6 796.5 L403.6 792.0 L405.4 789.8 L405.9 786.0 L407.8 784.0 L409.3 781.3 L410.5 780.0 L411.0 777.7 L412.2 777.0 L413.7 776.6 L415.4 774.0 L416.5 773.7 L417.8 774.5 L419.1 774.4 L420.9 774.7 L422.5 776.0 L423.6 779.1 L424.2 783.1 L424.9 787.0 L426.2 796.0 L426.6 802.9 L427.8 802.7 L428.9 799.3 L429.2 792.9 L430.0 785.3 L430.9 776.3 L431.3 780.8 L432.1 790.1 L432.2 790.3" fill="none" stroke="#37601E" stroke-width="3.60" stroke-linejoin="round" stroke-linecap="round" />
<g fill="#37601E"><circle cx="391.4" cy="852.0" r="3.9"/><circle cx="392.1" cy="847.0" r="3.8"/><circle cx="392.8" cy="838.9" r="4.2"/><circle cx="393.5" cy="833.1" r="4.2"/><circle cx="394.6" cy="827.4" r="4.0"/><circle cx="395.2" cy="821.3" r="4.0"/><circle cx="396.8" cy="816.8" r="4.2"/><circle cx="397.3" cy="812.5" r="4.2"/><circle cx="398.3" cy="808.8" r="3.9"/><circle cx="399.1" cy="806.3" r="4.3"/><circle cx="400.5" cy="801.1" r="4.0"/><circle cx="402.0" cy="797.6" r="4.2"/><circle cx="402.6" cy="796.5" r="3.9"/><circle cx="403.6" cy="792.0" r="3.8"/><circle cx="405.4" cy="789.8" r="4.4"/><circle cx="405.9" cy="786.0" r="4.3"/><circle cx="407.8" cy="784.0" r="4.2"/><circle cx="409.3" cy="781.3" r="3.8"/><circle cx="410.5" cy="780.0" r="3.8"/><circle cx="411.0" cy="777.7" r="3.9"/><circle cx="412.2" cy="777.0" r="3.9"/><circle cx="413.7" cy="776.6" r="4.0"/><circle cx="415.4" cy="774.0" r="4.0"/><circle cx="416.5" cy="773.7" r="3.8"/><circle cx="417.8" cy="774.5" r="4.0"/><circle cx="419.1" cy="774.4" r="4.2"/><circle cx="420.9" cy="774.7" r="3.9"/><circle cx="422.5" cy="776.0" r="4.3"/><circle cx="423.6" cy="779.1" r="4.1"/><circle cx="424.2" cy="783.1" r="4.3"/><circle cx="424.9" cy="787.0" r="3.9"/><circle cx="426.2" cy="796.0" r="4.1"/><circle cx="426.6" cy="802.9" r="4.2"/><circle cx="427.8" cy="802.7" r="4.0"/><circle cx="428.9" cy="799.3" r="3.8"/><circle cx="429.2" cy="792.9" r="4.3"/><circle cx="430.0" cy="785.3" r="4.3"/><circle cx="430.9" cy="776.3" r="4.0"/><circle cx="431.3" cy="780.8" r="3.8"/><circle cx="432.1" cy="790.1" r="4.3"/><circle cx="432.2" cy="790.3" r="4.2"/></g>
</g>
<g>
<path d="M108.4 887.6 L110.2 888.1 L112.0 887.6 L114.2 884.9 L115.9 885.0 L117.7 885.3 L119.0 882.9 L121.3 883.1 L123.1 883.2 L124.7 882.9 L126.3 881.4 L127.6 881.5 L129.7 880.6 L131.8 879.2 L133.5 878.6 L135.2 879.9 L136.5 878.8 L138.9 878.5 L140.3 877.0 L141.6 876.8 L143.7 875.9 L145.4 875.3 L147.4 876.1 L148.8 874.6 L150.8 874.8 L153.0 874.4 L154.2 875.6 L155.9 874.9 L157.8 875.8 L159.7 876.0 L161.1 877.4 L163.1 878.4 L165.0 879.4 L166.3 878.2 L168.3 878.0 L169.8 878.3 L171.7 879.2 L173.7 877.7 L175.4 878.5 L177.3 877.8 L178.8 877.3 L181.4 879.0 L182.4 878.9 L185.0 878.5 L186.0 878.2 L188.1 877.5 L190.0 877.2 L192.1 878.8 L193.6 879.6 L195.4 878.1 L196.9 877.9 L198.5 879.3 L200.9 878.0 L202.2 878.7 L204.5 879.3 L205.7 878.7 L208.1 878.2 L209.4 876.4 L211.6 876.4 L213.0 876.5 L214.7 876.8 L216.4 874.4 L218.4 875.4 L220.4 875.2 L222.2 875.6 L223.7 874.3 L225.2 873.6 L227.3 872.9 L229.2 872.9 L230.8 874.7 L232.3 872.3 L234.3 872.5 L236.4 871.8 L238.2 873.5 L239.9 872.2 L241.3 872.4 L243.3 871.5 L244.9 871.6 L247.0 872.7 L248.9 871.2 L250.2 872.1 L252.2 872.0 L253.7 871.9 L255.5 873.4 L257.8 875.2 L259.5 876.0 L261.2 876.7 L262.7 877.3 L264.3 879.5 L265.8 879.5 L268.1 879.3 L269.7 878.9 L271.2 880.4 L272.7 878.8 L275.1 879.5 L276.4 880.1 L278.4 880.0 L280.2 879.7 L282.1 879.2 L283.5 878.5 L286.0 879.1 L287.1 879.7 L289.0 877.9 L291.0 878.4 L292.8 879.2 L294.3 879.4 L296.0 879.3 L298.2 878.3 L299.9 878.3 L301.7 880.2 L303.6 879.8 L305.6 878.4 L307.6 879.9 L308.6 880.3 L310.6 878.8 L312.9 879.9 L314.5 878.8 L316.3 878.3 L317.6 878.7 L319.2 878.9 L321.1 877.5 L323.3 877.0 L325.1 876.7 L326.9 875.8 L328.6 875.7 L329.7 874.5 L331.6 873.5 L333.6 872.7 L334.8 870.5 L337.0 870.9 L338.7 867.7 L340.3 866.8 L342.0 867.5 L343.3 866.0 L345.3 862.2 L346.5 860.6 L348.7 858.7 L349.7 855.3 L351.1 853.0 L352.6 847.6 L354.0 843.2 L355.5 837.1 L356.9 829.1 L357.7 820.3 L358.7 807.6 L359.0 796.6 L359.8 786.0 L360.6 770.2 L360.6 758.2 L361.6 743.4 L362.2 731.3 L363.3 720.5 L364.1 709.6 L364.2 697.6 L365.1 687.9 L366.3 675.0 L366.7 664.9 L367.9 655.1 L368.7 645.0 L369.4 636.0 L370.9 628.4 L372.4 626.2 L373.4 619.6 L375.6 618.1 L376.9 617.6 L378.6 616.7 L380.6 616.6 L381.0 614.4" fill="none" stroke="#F526B8" stroke-width="3.60" stroke-linejoin="round" stroke-linecap="round" />
<g fill="#F526B8"><circle cx="108.4" cy="887.6" r="3.6"/><circle cx="110.2" cy="888.1" r="3.8"/><circle cx="112.0" cy="887.6" r="3.9"/><circle cx="114.2" cy="884.9" r="3.8"/><circle cx="115.9" cy="885.0" r="3.7"/><circle cx="117.7" cy="885.3" r="3.7"/><circle cx="119.0" cy="882.9" r="3.5"/><circle cx="121.3" cy="883.1" r="3.4"/><circle cx="123.1" cy="883.2" r="3.8"/><circle cx="124.7" cy="882.9" r="3.9"/><circle cx="126.3" cy="881.4" r="3.9"/><circle cx="127.6" cy="881.5" r="3.7"/><circle cx="129.7" cy="880.6" r="3.5"/><circle cx="131.8" cy="879.2" r="3.8"/><circle cx="133.5" cy="878.6" r="3.8"/><circle cx="135.2" cy="879.9" r="3.6"/><circle cx="136.5" cy="878.8" r="3.7"/><circle cx="138.9" cy="878.5" r="3.5"/><circle cx="140.3" cy="877.0" r="3.6"/><circle cx="141.6" cy="876.8" r="3.5"/><circle cx="143.7" cy="875.9" r="3.3"/><circle cx="145.4" cy="875.3" r="3.5"/><circle cx="147.4" cy="876.1" r="3.5"/><circle cx="148.8" cy="874.6" r="3.9"/><circle cx="150.8" cy="874.8" r="3.6"/><circle cx="153.0" cy="874.4" r="3.5"/><circle cx="154.2" cy="875.6" r="3.4"/><circle cx="155.9" cy="874.9" r="3.4"/><circle cx="157.8" cy="875.8" r="3.5"/><circle cx="159.7" cy="876.0" r="3.3"/><circle cx="161.1" cy="877.4" r="3.3"/><circle cx="163.1" cy="878.4" r="3.9"/><circle cx="165.0" cy="879.4" r="3.6"/><circle cx="166.3" cy="878.2" r="3.6"/><circle cx="168.3" cy="878.0" r="3.6"/><circle cx="169.8" cy="878.3" r="3.5"/><circle cx="171.7" cy="879.2" r="3.4"/><circle cx="173.7" cy="877.7" r="3.3"/><circle cx="175.4" cy="878.5" r="3.5"/><circle cx="177.3" cy="877.8" r="3.5"/><circle cx="178.8" cy="877.3" r="3.8"/><circle cx="181.4" cy="879.0" r="3.6"/><circle cx="182.4" cy="878.9" r="3.9"/><circle cx="185.0" cy="878.5" r="3.5"/><circle cx="186.0" cy="878.2" r="3.9"/><circle cx="188.1" cy="877.5" r="3.7"/><circle cx="190.0" cy="877.2" r="3.3"/><circle cx="192.1" cy="878.8" r="3.4"/><circle cx="193.6" cy="879.6" r="3.7"/><circle cx="195.4" cy="878.1" r="3.9"/><circle cx="196.9" cy="877.9" r="3.5"/><circle cx="198.5" cy="879.3" r="3.8"/><circle cx="200.9" cy="878.0" r="3.5"/><circle cx="202.2" cy="878.7" r="3.9"/><circle cx="204.5" cy="879.3" r="3.3"/><circle cx="205.7" cy="878.7" r="3.6"/><circle cx="208.1" cy="878.2" r="3.9"/><circle cx="209.4" cy="876.4" r="3.4"/><circle cx="211.6" cy="876.4" r="3.4"/><circle cx="213.0" cy="876.5" r="3.3"/><circle cx="214.7" cy="876.8" r="3.4"/><circle cx="216.4" cy="874.4" r="3.4"/><circle cx="218.4" cy="875.4" r="3.7"/><circle cx="220.4" cy="875.2" r="3.4"/><circle cx="222.2" cy="875.6" r="3.5"/><circle cx="223.7" cy="874.3" r="3.4"/><circle cx="225.2" cy="873.6" r="3.7"/><circle cx="227.3" cy="872.9" r="3.9"/><circle cx="229.2" cy="872.9" r="3.7"/><circle cx="230.8" cy="874.7" r="3.4"/><circle cx="232.3" cy="872.3" r="3.8"/><circle cx="234.3" cy="872.5" r="3.9"/><circle cx="236.4" cy="871.8" r="3.7"/><circle cx="238.2" cy="873.5" r="3.3"/><circle cx="239.9" cy="872.2" r="3.8"/><circle cx="241.3" cy="872.4" r="3.9"/><circle cx="243.3" cy="871.5" r="3.5"/><circle cx="244.9" cy="871.6" r="3.3"/><circle cx="247.0" cy="872.7" r="3.4"/><circle cx="248.9" cy="871.2" r="3.6"/><circle cx="250.2" cy="872.1" r="3.9"/><circle cx="252.2" cy="872.0" r="3.7"/><circle cx="253.7" cy="871.9" r="3.9"/><circle cx="255.5" cy="873.4" r="3.4"/><circle cx="257.8" cy="875.2" r="3.5"/><circle cx="259.5" cy="876.0" r="3.8"/><circle cx="261.2" cy="876.7" r="3.7"/><circle cx="262.7" cy="877.3" r="3.5"/><circle cx="264.3" cy="879.5" r="3.7"/><circle cx="265.8" cy="879.5" r="3.5"/><circle cx="268.1" cy="879.3" r="3.3"/><circle cx="269.7" cy="878.9" r="3.5"/><circle cx="271.2" cy="880.4" r="3.3"/><circle cx="272.7" cy="878.8" r="3.7"/><circle cx="275.1" cy="879.5" r="3.5"/><circle cx="276.4" cy="880.1" r="3.6"/><circle cx="278.4" cy="880.0" r="3.7"/><circle cx="280.2" cy="879.7" r="3.4"/><circle cx="282.1" cy="879.2" r="3.6"/><circle cx="283.5" cy="878.5" r="3.3"/><circle cx="286.0" cy="879.1" r="3.9"/><circle cx="287.1" cy="879.7" r="3.6"/><circle cx="289.0" cy="877.9" r="3.9"/><circle cx="291.0" cy="878.4" r="3.3"/><circle cx="292.8" cy="879.2" r="3.7"/><circle cx="294.3" cy="879.4" r="3.8"/><circle cx="296.0" cy="879.3" r="3.5"/><circle cx="298.2" cy="878.3" r="3.3"/><circle cx="299.9" cy="878.3" r="3.4"/><circle cx="301.7" cy="880.2" r="3.3"/><circle cx="303.6" cy="879.8" r="3.8"/><circle cx="305.6" cy="878.4" r="3.3"/><circle cx="307.6" cy="879.9" r="3.8"/><circle cx="308.6" cy="880.3" r="3.5"/><circle cx="310.6" cy="878.8" r="3.6"/><circle cx="312.9" cy="879.9" r="3.7"/><circle cx="314.5" cy="878.8" r="3.6"/><circle cx="316.3" cy="878.3" r="3.7"/><circle cx="317.6" cy="878.7" r="3.7"/><circle cx="319.2" cy="878.9" r="3.5"/><circle cx="321.1" cy="877.5" r="3.8"/><circle cx="323.3" cy="877.0" r="3.4"/><circle cx="325.1" cy="876.7" r="3.7"/><circle cx="326.9" cy="875.8" r="3.8"/><circle cx="328.6" cy="875.7" r="3.8"/><circle cx="329.7" cy="874.5" r="3.5"/><circle cx="331.6" cy="873.5" r="3.8"/><circle cx="333.6" cy="872.7" r="3.9"/><circle cx="334.8" cy="870.5" r="3.6"/><circle cx="337.0" cy="870.9" r="3.4"/><circle cx="338.7" cy="867.7" r="3.6"/><circle cx="340.3" cy="866.8" r="3.9"/><circle cx="342.0" cy="867.5" r="3.3"/><circle cx="343.3" cy="866.0" r="3.3"/><circle cx="345.3" cy="862.2" r="3.6"/><circle cx="346.5" cy="860.6" r="3.7"/><circle cx="348.7" cy="858.7" r="3.8"/><circle cx="349.7" cy="855.3" r="3.5"/><circle cx="351.1" cy="853.0" r="3.9"/><circle cx="352.6" cy="847.6" r="3.4"/><circle cx="354.0" cy="843.2" r="3.8"/><circle cx="355.5" cy="837.1" r="3.3"/><circle cx="356.9" cy="829.1" r="3.3"/><circle cx="357.7" cy="820.3" r="3.3"/><circle cx="358.7" cy="807.6" r="3.3"/><circle cx="359.0" cy="796.6" r="3.6"/><circle cx="359.8" cy="786.0" r="3.6"/><circle cx="360.6" cy="770.2" r="3.4"/><circle cx="360.6" cy="758.2" r="3.9"/><circle cx="361.6" cy="743.4" r="3.5"/><circle cx="362.2" cy="731.3" r="3.4"/><circle cx="363.3" cy="720.5" r="3.4"/><circle cx="364.1" cy="709.6" r="3.8"/><circle cx="364.2" cy="697.6" r="3.9"/><circle cx="365.1" cy="687.9" r="3.4"/><circle cx="366.3" cy="675.0" r="3.3"/><circle cx="366.7" cy="664.9" r="3.8"/><circle cx="367.9" cy="655.1" r="3.4"/><circle cx="368.7" cy="645.0" r="3.9"/><circle cx="369.4" cy="636.0" r="3.6"/><circle cx="370.9" cy="628.4" r="3.7"/><circle cx="372.4" cy="626.2" r="3.5"/><circle cx="373.4" cy="619.6" r="3.8"/><circle cx="375.6" cy="618.1" r="3.6"/><circle cx="376.9" cy="617.6" r="3.5"/><circle cx="378.6" cy="616.7" r="3.9"/><circle cx="380.6" cy="616.6" r="3.3"/><circle cx="381.0" cy="614.4" r="3.8"/></g>
</g>
<text x="109.0" y="929.5" font-size="27.5" fill="#111" text-anchor="middle" font-weight="normal" >0</text>
<text x="242.2" y="929.5" font-size="27.5" fill="#111" text-anchor="middle" font-weight="normal" >5000</text>
<text x="375.4" y="929.5" font-size="27.5" fill="#111" text-anchor="middle" font-weight="normal" >10000</text>
<text x="508.6" y="929.5" font-size="27.5" fill="#111" text-anchor="middle" font-weight="normal" >15000</text>
<text x="641.8" y="929.5" font-size="27.5" fill="#111" text-anchor="middle" font-weight="normal" >20000</text>
<text transform="translate(84.2,897.8) scale(0.9,1)" font-size="28.4" fill="#111" text-anchor="end">0</text>
<text transform="translate(84.2,815.2) scale(0.9,1)" font-size="28.4" fill="#111" text-anchor="end">2</text>
<text transform="translate(84.2,732.7) scale(0.9,1)" font-size="28.4" fill="#111" text-anchor="end">4</text>
<text transform="translate(84.2,650.1) scale(0.9,1)" font-size="28.4" fill="#111" text-anchor="end">6</text>
<text transform="translate(84.2,567.6) scale(0.9,1)" font-size="28.4" fill="#111" text-anchor="end">8</text>
<text x="377.0" y="974.2" font-size="26.7" fill="#111" text-anchor="middle" font-weight="normal" >Time (s)</text>
<text transform="translate(22.2,714) rotate(-90)" font-size="28.1" fill="#111" text-anchor="middle">GWL (cm)</text>
<text transform="translate(36.8,524.2) scale(1.18,1)" font-size="24" font-weight="bold" fill="#111">(b)</text>
<text transform="translate(255.2,778.7) scale(0.945,1)" font-size="28" fill="#843C0C">Case 1</text>
<text transform="translate(399.5,836.4) scale(0.945,1)" font-size="28" fill="#0070C0">Case 2</text>
<text transform="translate(524,546.2) scale(0.945,1)" font-size="28" fill="#7030A0">Case 3</text>
<text transform="translate(391.7,760.4) scale(0.945,1)" font-size="28" fill="#375623">Case 4</text>
<text transform="translate(351.5,602.3) scale(0.945,1)" font-size="28" fill="#FF33CC">Case 5</text>
<line x1="248.3" y1="1041.8" x2="248.3" y2="1419.7" stroke="#E3E3E3" stroke-width="1.3"/>
<line x1="384.6" y1="1041.8" x2="384.6" y2="1419.7" stroke="#E3E3E3" stroke-width="1.3"/>
<line x1="520.9" y1="1041.8" x2="520.9" y2="1419.7" stroke="#E3E3E3" stroke-width="1.3"/>
<line x1="112.0" y1="1335.5" x2="657.3" y2="1335.5" stroke="#E3E3E3" stroke-width="1.3"/>
<line x1="112.0" y1="1251.1" x2="657.3" y2="1251.1" stroke="#E3E3E3" stroke-width="1.3"/>
<line x1="112.0" y1="1166.7" x2="657.3" y2="1166.7" stroke="#E3E3E3" stroke-width="1.3"/>
<line x1="112.0" y1="1082.3" x2="657.3" y2="1082.3" stroke="#E3E3E3" stroke-width="1.3"/>
<path d="M112.0 1041.8 H657.3 V1419.7" fill="none" stroke="#000" stroke-width="2.4"/>
<path d="M112.0 1041.8 V1419.7 H657.3" fill="none" stroke="#000" stroke-width="3" stroke-linecap="square"/>
<line x1="112.0" y1="1411.7" x2="112.0" y2="1419.7" stroke="#000" stroke-width="2.4"/>
<line x1="248.3" y1="1411.7" x2="248.3" y2="1419.7" stroke="#000" stroke-width="2.4"/>
<line x1="384.6" y1="1411.7" x2="384.6" y2="1419.7" stroke="#000" stroke-width="2.4"/>
<line x1="520.9" y1="1411.7" x2="520.9" y2="1419.7" stroke="#000" stroke-width="2.4"/>
<line x1="657.2" y1="1411.7" x2="657.2" y2="1419.7" stroke="#000" stroke-width="2.4"/>
<line x1="112.0" y1="1419.9" x2="120.0" y2="1419.9" stroke="#000" stroke-width="2.4"/>
<line x1="112.0" y1="1335.5" x2="120.0" y2="1335.5" stroke="#000" stroke-width="2.4"/>
<line x1="112.0" y1="1251.1" x2="120.0" y2="1251.1" stroke="#000" stroke-width="2.4"/>
<line x1="112.0" y1="1166.7" x2="120.0" y2="1166.7" stroke="#000" stroke-width="2.4"/>
<line x1="112.0" y1="1082.3" x2="120.0" y2="1082.3" stroke="#000" stroke-width="2.4"/>
<g>
<path d="M111.6 1418.3 L113.3 1415.7 L114.5 1411.9 L116.2 1409.6 L118.1 1406.3 L119.1 1403.5 L120.7 1402.0 L122.2 1399.5 L124.3 1399.4 L125.7 1399.5 L127.3 1397.8 L129.0 1398.2 L131.4 1396.7 L133.1 1398.4 L134.4 1398.0 L136.3 1400.1 L137.7 1400.5 L139.7 1400.9 L141.4 1402.8 L142.8 1403.8 L144.6 1404.5 L146.7 1403.7 L148.5 1405.5 L149.8 1403.0 L151.4 1405.2 L153.0 1403.9 L154.6 1400.9 L155.7 1393.7 L157.3 1387.6 L158.1 1384.1 L160.2 1384.6 L162.1 1383.5 L163.1 1386.7 L165.1 1386.3 L166.5 1385.5 L168.1 1383.6 L169.0 1381.4 L170.4 1375.6 L171.3 1368.9 L172.5 1363.3 L173.7 1358.8 L175.0 1354.4 L176.5 1348.2 L177.6 1344.2 L179.4 1339.9 L180.2 1338.4 L182.5 1336.8 L183.7 1334.7 L185.4 1334.0 L187.0 1334.6 L189.0 1335.0 L190.7 1334.0 L192.8 1335.9 L194.4 1335.9 L196.3 1337.2 L198.2 1337.3 L199.4 1338.0 L201.0 1341.3 L202.6 1341.5 L204.2 1342.6 L206.3 1344.0 L207.4 1348.9 L208.6 1350.8 L210.2 1352.6 L211.5 1354.9 L213.6 1359.2 L215.2 1359.2 L216.8 1360.2 L218.5 1361.0 L220.0 1362.3 L221.5 1362.1 L224.0 1361.8 L225.5 1363.5 L226.9 1363.2 L229.1 1363.2 L230.8 1363.8 L232.4 1364.9 L234.2 1364.8 L235.9 1366.0 L237.3 1366.8 L239.0 1368.2 L240.9 1368.4 L242.7 1368.5 L244.2 1367.3 L246.5 1367.8 L247.9 1367.4 L249.9 1367.0 L250.6 1372.8 L252.1 1376.7 L253.1 1379.6" fill="none" stroke="#8C3B08" stroke-width="3.60" stroke-linejoin="round" stroke-linecap="round" />
<g fill="#8C3B08"><circle cx="111.6" cy="1418.3" r="3.9"/><circle cx="113.3" cy="1415.7" r="3.3"/><circle cx="114.5" cy="1411.9" r="3.5"/><circle cx="116.2" cy="1409.6" r="3.8"/><circle cx="118.1" cy="1406.3" r="3.8"/><circle cx="119.1" cy="1403.5" r="3.3"/><circle cx="120.7" cy="1402.0" r="3.4"/><circle cx="122.2" cy="1399.5" r="3.4"/><circle cx="124.3" cy="1399.4" r="3.3"/><circle cx="125.7" cy="1399.5" r="3.5"/><circle cx="127.3" cy="1397.8" r="3.8"/><circle cx="129.0" cy="1398.2" r="3.6"/><circle cx="131.4" cy="1396.7" r="3.6"/><circle cx="133.1" cy="1398.4" r="3.3"/><circle cx="134.4" cy="1398.0" r="3.5"/><circle cx="136.3" cy="1400.1" r="3.9"/><circle cx="137.7" cy="1400.5" r="3.7"/><circle cx="139.7" cy="1400.9" r="3.6"/><circle cx="141.4" cy="1402.8" r="3.6"/><circle cx="142.8" cy="1403.8" r="3.8"/><circle cx="144.6" cy="1404.5" r="3.8"/><circle cx="146.7" cy="1403.7" r="3.4"/><circle cx="148.5" cy="1405.5" r="3.7"/><circle cx="149.8" cy="1403.0" r="3.5"/><circle cx="151.4" cy="1405.2" r="3.6"/><circle cx="153.0" cy="1403.9" r="3.4"/><circle cx="154.6" cy="1400.9" r="3.5"/><circle cx="155.7" cy="1393.7" r="3.5"/><circle cx="157.3" cy="1387.6" r="3.5"/><circle cx="158.1" cy="1384.1" r="3.3"/><circle cx="160.2" cy="1384.6" r="3.4"/><circle cx="162.1" cy="1383.5" r="3.6"/><circle cx="163.1" cy="1386.7" r="3.3"/><circle cx="165.1" cy="1386.3" r="3.4"/><circle cx="166.5" cy="1385.5" r="3.8"/><circle cx="168.1" cy="1383.6" r="3.4"/><circle cx="169.0" cy="1381.4" r="3.5"/><circle cx="170.4" cy="1375.6" r="3.4"/><circle cx="171.3" cy="1368.9" r="3.8"/><circle cx="172.5" cy="1363.3" r="3.3"/><circle cx="173.7" cy="1358.8" r="3.7"/><circle cx="175.0" cy="1354.4" r="3.9"/><circle cx="176.5" cy="1348.2" r="3.4"/><circle cx="177.6" cy="1344.2" r="3.5"/><circle cx="179.4" cy="1339.9" r="3.8"/><circle cx="180.2" cy="1338.4" r="3.7"/><circle cx="182.5" cy="1336.8" r="3.5"/><circle cx="183.7" cy="1334.7" r="3.3"/><circle cx="185.4" cy="1334.0" r="3.6"/><circle cx="187.0" cy="1334.6" r="3.5"/><circle cx="189.0" cy="1335.0" r="3.7"/><circle cx="190.7" cy="1334.0" r="3.5"/><circle cx="192.8" cy="1335.9" r="3.5"/><circle cx="194.4" cy="1335.9" r="3.7"/><circle cx="196.3" cy="1337.2" r="3.8"/><circle cx="198.2" cy="1337.3" r="3.5"/><circle cx="199.4" cy="1338.0" r="3.5"/><circle cx="201.0" cy="1341.3" r="3.7"/><circle cx="202.6" cy="1341.5" r="3.9"/><circle cx="204.2" cy="1342.6" r="3.4"/><circle cx="206.3" cy="1344.0" r="3.9"/><circle cx="207.4" cy="1348.9" r="3.7"/><circle cx="208.6" cy="1350.8" r="3.5"/><circle cx="210.2" cy="1352.6" r="3.7"/><circle cx="211.5" cy="1354.9" r="3.5"/><circle cx="213.6" cy="1359.2" r="3.3"/><circle cx="215.2" cy="1359.2" r="3.8"/><circle cx="216.8" cy="1360.2" r="3.5"/><circle cx="218.5" cy="1361.0" r="3.6"/><circle cx="220.0" cy="1362.3" r="3.6"/><circle cx="221.5" cy="1362.1" r="3.9"/><circle cx="224.0" cy="1361.8" r="3.8"/><circle cx="225.5" cy="1363.5" r="3.3"/><circle cx="226.9" cy="1363.2" r="3.7"/><circle cx="229.1" cy="1363.2" r="3.6"/><circle cx="230.8" cy="1363.8" r="3.6"/><circle cx="232.4" cy="1364.9" r="3.8"/><circle cx="234.2" cy="1364.8" r="3.5"/><circle cx="235.9" cy="1366.0" r="3.6"/><circle cx="237.3" cy="1366.8" r="3.9"/><circle cx="239.0" cy="1368.2" r="3.6"/><circle cx="240.9" cy="1368.4" r="3.6"/><circle cx="242.7" cy="1368.5" r="3.6"/><circle cx="244.2" cy="1367.3" r="3.8"/><circle cx="246.5" cy="1367.8" r="3.7"/><circle cx="247.9" cy="1367.4" r="3.8"/><circle cx="249.9" cy="1367.0" r="3.5"/><circle cx="250.6" cy="1372.8" r="3.3"/><circle cx="252.1" cy="1376.7" r="3.7"/><circle cx="253.1" cy="1379.6" r="3.6"/></g>
</g>
<g>
<path d="M252.9 1379.0 L255.9 1378.4 L259.1 1379.0 L262.3 1378.3 L264.9 1379.5 L265.6 1381.9 L266.7 1384.0 L267.4 1386.5 L268.5 1388.7 L269.6 1391.2 L270.5 1392.8 L271.2 1395.4 L274.2 1396.0 L277.5 1395.3 L280.7 1395.3 L283.5 1396.2 L284.4 1398.2 L285.3 1400.2 L286.7 1402.9 L287.7 1404.5 L288.6 1406.4 L289.8 1408.8 L291.0 1410.9 L292.3 1412.7 L293.7 1414.4 L295.0 1416.7 L296.0 1418.4 L297.8 1417.8 L299.6 1416.3 L301.3 1415.3 L303.1 1413.8 L305.0 1412.3 L306.6 1411.2 L308.4 1409.7 L310.0 1407.8 L310.5 1407.1" fill="none" stroke="#8C3B08" stroke-width="3.00" stroke-linejoin="round" stroke-linecap="round" />
<g fill="#8C3B08"><circle cx="252.9" cy="1379.0" r="2.8"/><circle cx="255.9" cy="1378.4" r="2.2"/><circle cx="259.1" cy="1379.0" r="2.6"/><circle cx="262.3" cy="1378.3" r="2.3"/><circle cx="264.9" cy="1379.5" r="2.8"/><circle cx="265.6" cy="1381.9" r="2.5"/><circle cx="266.7" cy="1384.0" r="2.7"/><circle cx="267.4" cy="1386.5" r="2.5"/><circle cx="268.5" cy="1388.7" r="2.6"/><circle cx="269.6" cy="1391.2" r="2.6"/><circle cx="270.5" cy="1392.8" r="2.4"/><circle cx="271.2" cy="1395.4" r="2.3"/><circle cx="274.2" cy="1396.0" r="2.7"/><circle cx="277.5" cy="1395.3" r="2.3"/><circle cx="280.7" cy="1395.3" r="2.8"/><circle cx="283.5" cy="1396.2" r="2.3"/><circle cx="284.4" cy="1398.2" r="2.2"/><circle cx="285.3" cy="1400.2" r="2.2"/><circle cx="286.7" cy="1402.9" r="2.7"/><circle cx="287.7" cy="1404.5" r="2.8"/><circle cx="288.6" cy="1406.4" r="2.4"/><circle cx="289.8" cy="1408.8" r="2.6"/><circle cx="291.0" cy="1410.9" r="2.3"/><circle cx="292.3" cy="1412.7" r="2.8"/><circle cx="293.7" cy="1414.4" r="2.6"/><circle cx="295.0" cy="1416.7" r="2.3"/><circle cx="296.0" cy="1418.4" r="2.2"/><circle cx="297.8" cy="1417.8" r="2.6"/><circle cx="299.6" cy="1416.3" r="2.2"/><circle cx="301.3" cy="1415.3" r="2.7"/><circle cx="303.1" cy="1413.8" r="2.4"/><circle cx="305.0" cy="1412.3" r="2.3"/><circle cx="306.6" cy="1411.2" r="2.6"/><circle cx="308.4" cy="1409.7" r="2.4"/><circle cx="310.0" cy="1407.8" r="2.5"/><circle cx="310.5" cy="1407.1" r="2.3"/></g>
</g>
<g>
<path d="M310.6 1407.5 L314.0 1404.3 L317.4 1401.7 L320.7 1398.0 L324.1 1395.3 L329.0 1395.2 L334.4 1396.2 L339.7 1396.6 L341.8 1392.1 L344.0 1387.7 L346.2 1383.9 L348.4 1379.3 L350.4 1374.8 L353.4 1371.3 L356.6 1367.8 L359.8 1365.1 L363.3 1361.8 L366.6 1358.5 L370.1 1355.9 L372.1 1350.9 L373.6 1345.7 L375.0 1341.2 L376.9 1337.0 L382.6 1337.4 L387.9 1337.0 L393.2 1336.0 L397.0 1333.4 L399.5 1328.8 L401.9 1324.8 L404.3 1321.1 L405.1 1319.5" fill="none" stroke="#8C3B08" stroke-width="3.00" stroke-linejoin="round" stroke-linecap="round" />
<g fill="#8C3B08"><circle cx="310.6" cy="1407.5" r="2.4"/><circle cx="314.0" cy="1404.3" r="2.7"/><circle cx="317.4" cy="1401.7" r="2.4"/><circle cx="320.7" cy="1398.0" r="2.8"/><circle cx="324.1" cy="1395.3" r="2.4"/><circle cx="329.0" cy="1395.2" r="2.8"/><circle cx="334.4" cy="1396.2" r="2.6"/><circle cx="339.7" cy="1396.6" r="2.6"/><circle cx="341.8" cy="1392.1" r="2.8"/><circle cx="344.0" cy="1387.7" r="2.5"/><circle cx="346.2" cy="1383.9" r="2.5"/><circle cx="348.4" cy="1379.3" r="3.0"/><circle cx="350.4" cy="1374.8" r="2.6"/><circle cx="353.4" cy="1371.3" r="2.9"/><circle cx="356.6" cy="1367.8" r="3.0"/><circle cx="359.8" cy="1365.1" r="2.7"/><circle cx="363.3" cy="1361.8" r="2.5"/><circle cx="366.6" cy="1358.5" r="2.4"/><circle cx="370.1" cy="1355.9" r="3.0"/><circle cx="372.1" cy="1350.9" r="2.4"/><circle cx="373.6" cy="1345.7" r="2.7"/><circle cx="375.0" cy="1341.2" r="2.7"/><circle cx="376.9" cy="1337.0" r="2.4"/><circle cx="382.6" cy="1337.4" r="2.7"/><circle cx="387.9" cy="1337.0" r="2.5"/><circle cx="393.2" cy="1336.0" r="2.7"/><circle cx="397.0" cy="1333.4" r="2.7"/><circle cx="399.5" cy="1328.8" r="2.6"/><circle cx="401.9" cy="1324.8" r="2.5"/><circle cx="404.3" cy="1321.1" r="2.6"/><circle cx="405.1" cy="1319.5" r="2.5"/></g>
</g>
<g>
<path d="M111.1 1418.3 L113.6 1419.0 L115.5 1417.5 L117.3 1418.8 L118.9 1419.0 L120.6 1418.0 L122.5 1417.7 L123.8 1417.3 L125.7 1418.7 L127.4 1419.7 L128.9 1418.7 L130.9 1418.7 L133.2 1418.9 L134.2 1417.4 L136.5 1419.4 L137.7 1418.2 L140.1 1418.6 L141.5 1418.5 L143.4 1418.7 L144.7 1418.6 L146.9 1417.0 L148.3 1416.4 L150.7 1417.5 L151.9 1416.3 L153.6 1415.8 L155.5 1416.0 L157.9 1417.6 L159.5 1416.0 L161.0 1416.7 L163.1 1416.4 L164.6 1414.7 L166.4 1416.5 L168.3 1414.5 L170.0 1415.2 L171.3 1417.0 L173.5 1416.5 L174.8 1416.8 L177.4 1417.0 L179.0 1416.9 L180.8 1416.2 L182.2 1416.8 L184.3 1416.9 L185.6 1417.1 L187.7 1417.0 L189.0 1417.0 L191.5 1414.9 L193.3 1414.8 L194.5 1415.4 L196.2 1415.7 L198.6 1416.4 L200.2 1415.8 L202.0 1417.2 L203.5 1417.4 L205.1 1414.7 L205.8 1414.2 L207.9 1411.9 L209.1 1411.9 L210.7 1408.2 L211.8 1406.9 L212.8 1407.7 L214.4 1405.6 L215.8 1403.4 L216.9 1402.0 L218.9 1401.3 L219.9 1398.7 L221.4 1399.5 L223.1 1398.5 L225.0 1396.1 L226.3 1394.7 L227.8 1393.8 L228.7 1394.7 L230.2 1391.3 L232.1 1391.0 L233.4 1388.9 L234.4 1388.9 L235.7 1387.4 L236.7 1385.4 L238.4 1384.9 L240.0 1384.2 L242.6 1385.3 L244.2 1385.0 L245.4 1384.7 L246.4 1383.6 L247.2 1378.9 L248.4 1377.0 L248.9 1371.2 L249.1 1370.8" fill="none" stroke="#0A70C6" stroke-width="3.60" stroke-linejoin="round" stroke-linecap="round" />
<g fill="#0A70C6"><circle cx="111.1" cy="1418.3" r="3.9"/><circle cx="113.6" cy="1419.0" r="3.5"/><circle cx="115.5" cy="1417.5" r="3.7"/><circle cx="117.3" cy="1418.8" r="3.7"/><circle cx="118.9" cy="1419.0" r="3.5"/><circle cx="120.6" cy="1418.0" r="3.6"/><circle cx="122.5" cy="1417.7" r="3.7"/><circle cx="123.8" cy="1417.3" r="3.9"/><circle cx="125.7" cy="1418.7" r="3.6"/><circle cx="127.4" cy="1419.7" r="3.5"/><circle cx="128.9" cy="1418.7" r="3.9"/><circle cx="130.9" cy="1418.7" r="3.3"/><circle cx="133.2" cy="1418.9" r="3.8"/><circle cx="134.2" cy="1417.4" r="3.7"/><circle cx="136.5" cy="1419.4" r="3.6"/><circle cx="137.7" cy="1418.2" r="3.6"/><circle cx="140.1" cy="1418.6" r="3.8"/><circle cx="141.5" cy="1418.5" r="3.9"/><circle cx="143.4" cy="1418.7" r="3.8"/><circle cx="144.7" cy="1418.6" r="3.8"/><circle cx="146.9" cy="1417.0" r="3.3"/><circle cx="148.3" cy="1416.4" r="3.5"/><circle cx="150.7" cy="1417.5" r="3.3"/><circle cx="151.9" cy="1416.3" r="3.9"/><circle cx="153.6" cy="1415.8" r="3.9"/><circle cx="155.5" cy="1416.0" r="3.4"/><circle cx="157.9" cy="1417.6" r="3.7"/><circle cx="159.5" cy="1416.0" r="3.7"/><circle cx="161.0" cy="1416.7" r="3.3"/><circle cx="163.1" cy="1416.4" r="3.5"/><circle cx="164.6" cy="1414.7" r="3.8"/><circle cx="166.4" cy="1416.5" r="3.7"/><circle cx="168.3" cy="1414.5" r="3.4"/><circle cx="170.0" cy="1415.2" r="3.8"/><circle cx="171.3" cy="1417.0" r="3.5"/><circle cx="173.5" cy="1416.5" r="3.6"/><circle cx="174.8" cy="1416.8" r="3.5"/><circle cx="177.4" cy="1417.0" r="3.9"/><circle cx="179.0" cy="1416.9" r="3.7"/><circle cx="180.8" cy="1416.2" r="3.8"/><circle cx="182.2" cy="1416.8" r="3.7"/><circle cx="184.3" cy="1416.9" r="3.5"/><circle cx="185.6" cy="1417.1" r="3.9"/><circle cx="187.7" cy="1417.0" r="3.7"/><circle cx="189.0" cy="1417.0" r="3.7"/><circle cx="191.5" cy="1414.9" r="3.4"/><circle cx="193.3" cy="1414.8" r="3.4"/><circle cx="194.5" cy="1415.4" r="3.7"/><circle cx="196.2" cy="1415.7" r="3.8"/><circle cx="198.6" cy="1416.4" r="3.8"/><circle cx="200.2" cy="1415.8" r="3.5"/><circle cx="202.0" cy="1417.2" r="3.3"/><circle cx="203.5" cy="1417.4" r="3.6"/><circle cx="205.1" cy="1414.7" r="3.9"/><circle cx="205.8" cy="1414.2" r="3.4"/><circle cx="207.9" cy="1411.9" r="3.8"/><circle cx="209.1" cy="1411.9" r="3.4"/><circle cx="210.7" cy="1408.2" r="3.5"/><circle cx="211.8" cy="1406.9" r="3.3"/><circle cx="212.8" cy="1407.7" r="3.5"/><circle cx="214.4" cy="1405.6" r="3.5"/><circle cx="215.8" cy="1403.4" r="3.9"/><circle cx="216.9" cy="1402.0" r="3.9"/><circle cx="218.9" cy="1401.3" r="3.4"/><circle cx="219.9" cy="1398.7" r="3.5"/><circle cx="221.4" cy="1399.5" r="3.9"/><circle cx="223.1" cy="1398.5" r="3.4"/><circle cx="225.0" cy="1396.1" r="3.5"/><circle cx="226.3" cy="1394.7" r="3.6"/><circle cx="227.8" cy="1393.8" r="3.3"/><circle cx="228.7" cy="1394.7" r="3.4"/><circle cx="230.2" cy="1391.3" r="3.5"/><circle cx="232.1" cy="1391.0" r="3.5"/><circle cx="233.4" cy="1388.9" r="3.9"/><circle cx="234.4" cy="1388.9" r="3.4"/><circle cx="235.7" cy="1387.4" r="3.4"/><circle cx="236.7" cy="1385.4" r="3.9"/><circle cx="238.4" cy="1384.9" r="3.6"/><circle cx="240.0" cy="1384.2" r="3.8"/><circle cx="242.6" cy="1385.3" r="3.7"/><circle cx="244.2" cy="1385.0" r="3.8"/><circle cx="245.4" cy="1384.7" r="3.5"/><circle cx="246.4" cy="1383.6" r="3.4"/><circle cx="247.2" cy="1378.9" r="3.8"/><circle cx="248.4" cy="1377.0" r="3.6"/><circle cx="248.9" cy="1371.2" r="3.6"/><circle cx="249.1" cy="1370.8" r="3.7"/></g>
</g>
<g>
<path d="M111.8 1418.2 L113.1 1420.4 L115.1 1418.3 L117.1 1418.2 L119.0 1417.4 L120.9 1419.2 L122.1 1420.5 L123.8 1418.1 L125.4 1419.2 L128.0 1419.6 L129.4 1420.0 L130.8 1418.3 L133.3 1420.6 L135.1 1419.7 L137.0 1418.6 L139.0 1419.8 L140.1 1418.6 L142.5 1418.5 L143.5 1420.3 L145.7 1419.1 L147.7 1420.4 L148.9 1418.5 L150.6 1418.7 L152.9 1420.2 L154.9 1419.3 L156.4 1419.3 L158.0 1420.2 L160.4 1420.2 L161.5 1419.6 L164.0 1419.0 L166.0 1420.4 L167.6 1420.1 L169.3 1420.3 L170.5 1419.7 L172.9 1419.4 L174.2 1417.5 L176.4 1420.1 L177.8 1418.0 L179.6 1417.6 L181.9 1420.6 L183.9 1418.5 L185.5 1417.5 L187.5 1418.4 L188.3 1419.4 L190.3 1418.2 L192.0 1418.8 L194.4 1420.0 L195.6 1420.1 L197.4 1418.1 L199.9 1418.5 L201.2 1418.3 L202.6 1416.8 L204.2 1414.8 L206.5 1411.6 L207.2 1410.2 L208.6 1405.4 L210.4 1399.7 L212.1 1397.8 L213.4 1392.4 L214.8 1390.5 L216.1 1389.1 L218.5 1386.5 L220.1 1382.6 L221.7 1379.4 L222.7 1377.9 L224.3 1378.0 L226.2 1375.4 L227.2 1371.2 L228.7 1367.4 L229.8 1364.8 L231.6 1360.0 L233.0 1360.7 L234.8 1359.1 L237.0 1360.5 L239.3 1360.5 L241.1 1360.9 L242.6 1360.1 L243.3 1355.6 L244.6 1353.5 L246.9 1348.3 L247.7 1343.1 L249.2 1342.5 L251.8 1339.9 L252.4 1338.1 L254.4 1339.1 L256.6 1336.2 L257.4 1333.5 L259.1 1334.3 L260.8 1329.9 L262.6 1324.1 L263.5 1320.3 L264.7 1315.9 L266.8 1315.4 L268.0 1312.6 L269.4 1312.9 L271.8 1310.8 L273.5 1305.5 L274.7 1301.7 L276.2 1299.7 L276.9 1293.2 L278.6 1293.5 L280.5 1291.9 L282.8 1294.8 L284.2 1292.6 L286.4 1294.6 L287.2 1294.2 L289.4 1293.1 L290.7 1288.8 L291.8 1284.0 L294.1 1280.9 L294.6 1278.2 L296.1 1273.7 L298.0 1277.6 L299.8 1280.6 L301.1 1280.9 L303.0 1280.2 L304.3 1279.7 L306.2 1279.0 L307.3 1277.1 L309.5 1274.8 L310.5 1274.6 L312.6 1270.0 L313.9 1271.8 L315.6 1268.6 L317.9 1268.9 L319.4 1267.4 L320.4 1264.1 L323.2 1265.3 L323.7 1261.6 L325.7 1263.4 L327.4 1261.7 L329.9 1260.9 L331.6 1258.9 L332.5 1257.3 L334.9 1256.9 L336.9 1258.3 L337.7 1257.9 L339.4 1256.2 L341.1 1256.4 L343.8 1256.6 L344.5 1256.4 L347.0 1256.3 L348.7 1255.6 L350.6 1256.2 L351.8 1253.7 L354.2 1254.5 L355.8 1253.5 L357.7 1250.5 L359.1 1248.5 L360.0 1241.4 L361.6 1239.3 L362.9 1241.9 L365.0 1246.3 L365.8 1247.4 L367.9 1251.0 L369.8 1249.6 L370.9 1251.3 L373.1 1251.8 L374.6 1255.7 L376.5 1253.5 L377.3 1252.5 L379.7 1252.8 L381.2 1250.9 L382.7 1250.1 L384.7 1250.1 L386.5 1250.0 L388.5 1250.4 L390.0 1247.9 L391.8 1251.0 L393.1 1252.4 L394.5 1254.3 L396.4 1255.2 L397.8 1255.4 L399.7 1255.5 L401.1 1255.4 L403.9 1255.7 L405.6 1255.6 L407.3 1255.9 L408.9 1252.9 L410.1 1252.9 L411.5 1251.8 L414.3 1253.7 L415.4 1252.6 L417.7 1252.5 L419.5 1250.8 L420.4 1251.3 L422.4 1250.1 L424.2 1249.2 L426.7 1247.4 L427.8 1247.9 L429.5 1247.6 L431.0 1246.2 L433.0 1245.2 L434.0 1241.3 L435.9 1242.4 L437.2 1238.7 L439.7 1239.6 L440.7 1236.1 L442.9 1235.3 L444.6 1233.9 L445.7 1230.7 L447.1 1230.5 L449.0 1228.9 L451.7 1230.4 L453.0 1230.7 L454.8 1231.1 L456.2 1229.2 L457.7 1229.3 L459.8 1229.1 L461.1 1228.5 L463.7 1227.3 L464.5 1225.8 L466.0 1221.7 L467.8 1220.9 L469.9 1219.2 L471.5 1216.2 L473.4 1214.8 L474.8 1211.2 L476.3 1209.3 L477.9 1208.5 L479.2 1203.7 L479.9 1200.4 L482.5 1197.8 L484.0 1199.0 L485.8 1197.4 L486.9 1196.9 L489.7 1197.7 L491.1 1198.1 L492.4 1196.2 L493.9 1198.6 L495.7 1197.5 L497.6 1195.0 L498.9 1193.6 L500.7 1190.5 L502.7 1187.9 L504.0 1188.7 L505.8 1186.7 L508.1 1185.6 L508.9 1182.6 L510.1 1174.6 L511.6 1168.6 L513.1 1162.3 L514.2 1160.1 L514.9 1160.2 L516.2 1167.8 L517.4 1175.5 L518.7 1172.8 L520.9 1172.4 L522.3 1172.6 L523.9 1170.7 L526.0 1171.4 L528.4 1171.0 L529.1 1169.3 L531.6 1169.9 L533.5 1170.7 L535.3 1167.3 L537.1 1168.1 L538.0 1166.4 L540.5 1166.0 L541.3 1165.7 L544.1 1165.8 L545.6 1164.0 L546.2 1156.2 L546.4 1144.4 L547.4 1132.5 L548.9 1123.7 L549.4 1118.6 L551.6 1118.4 L552.5 1117.1 L555.1 1117.7 L556.3 1117.9 L558.5 1118.8 L559.7 1119.7 L562.2 1121.9 L563.6 1122.2 L564.8 1115.5 L565.2 1110.9 L567.2 1103.0 L568.1 1101.8 L570.1 1101.3 L571.5 1102.6 L573.7 1102.6 L575.2 1102.6 L576.4 1104.4 L578.4 1103.6 L580.4 1104.9 L582.0 1103.0 L583.7 1098.4 L585.6 1096.3 L587.3 1098.1 L587.7 1104.5 L589.1 1107.2 L590.7 1110.7 L591.9 1112.3 L593.6 1116.4 L595.1 1116.6 L597.1 1117.0 L599.2 1118.7 L600.4 1117.5 L601.9 1117.3 L603.5 1111.9 L605.4 1110.9 L607.3 1112.8 L608.0 1116.8 L608.9 1106.8 L609.0 1093.2 L610.3 1085.2 L611.9 1077.6 L613.1 1074.3 L613.4 1081.1 L613.9 1080.1" fill="none" stroke="#6D2AA8" stroke-width="3.60" stroke-linejoin="round" stroke-linecap="round" />
<g fill="#6D2AA8"><circle cx="111.8" cy="1418.2" r="3.4"/><circle cx="113.1" cy="1420.4" r="3.4"/><circle cx="115.1" cy="1418.3" r="3.8"/><circle cx="117.1" cy="1418.2" r="3.8"/><circle cx="119.0" cy="1417.4" r="3.4"/><circle cx="120.9" cy="1419.2" r="3.5"/><circle cx="122.1" cy="1420.5" r="3.7"/><circle cx="123.8" cy="1418.1" r="3.7"/><circle cx="125.4" cy="1419.2" r="3.6"/><circle cx="128.0" cy="1419.6" r="3.5"/><circle cx="129.4" cy="1420.0" r="3.2"/><circle cx="130.8" cy="1418.3" r="3.3"/><circle cx="133.3" cy="1420.6" r="3.6"/><circle cx="135.1" cy="1419.7" r="3.6"/><circle cx="137.0" cy="1418.6" r="3.7"/><circle cx="139.0" cy="1419.8" r="3.8"/><circle cx="140.1" cy="1418.6" r="3.8"/><circle cx="142.5" cy="1418.5" r="3.3"/><circle cx="143.5" cy="1420.3" r="3.2"/><circle cx="145.7" cy="1419.1" r="3.8"/><circle cx="147.7" cy="1420.4" r="3.5"/><circle cx="148.9" cy="1418.5" r="3.3"/><circle cx="150.6" cy="1418.7" r="3.6"/><circle cx="152.9" cy="1420.2" r="3.3"/><circle cx="154.9" cy="1419.3" r="3.3"/><circle cx="156.4" cy="1419.3" r="3.4"/><circle cx="158.0" cy="1420.2" r="3.5"/><circle cx="160.4" cy="1420.2" r="3.6"/><circle cx="161.5" cy="1419.6" r="3.2"/><circle cx="164.0" cy="1419.0" r="3.7"/><circle cx="166.0" cy="1420.4" r="3.6"/><circle cx="167.6" cy="1420.1" r="3.5"/><circle cx="169.3" cy="1420.3" r="3.6"/><circle cx="170.5" cy="1419.7" r="3.7"/><circle cx="172.9" cy="1419.4" r="3.2"/><circle cx="174.2" cy="1417.5" r="3.5"/><circle cx="176.4" cy="1420.1" r="3.6"/><circle cx="177.8" cy="1418.0" r="3.6"/><circle cx="179.6" cy="1417.6" r="3.6"/><circle cx="181.9" cy="1420.6" r="3.3"/><circle cx="183.9" cy="1418.5" r="3.8"/><circle cx="185.5" cy="1417.5" r="3.7"/><circle cx="187.5" cy="1418.4" r="3.3"/><circle cx="188.3" cy="1419.4" r="3.5"/><circle cx="190.3" cy="1418.2" r="3.8"/><circle cx="192.0" cy="1418.8" r="3.3"/><circle cx="194.4" cy="1420.0" r="3.4"/><circle cx="195.6" cy="1420.1" r="3.8"/><circle cx="197.4" cy="1418.1" r="3.8"/><circle cx="199.9" cy="1418.5" r="3.3"/><circle cx="201.2" cy="1418.3" r="3.7"/><circle cx="202.6" cy="1416.8" r="3.4"/><circle cx="204.2" cy="1414.8" r="3.6"/><circle cx="206.5" cy="1411.6" r="3.7"/><circle cx="207.2" cy="1410.2" r="3.2"/><circle cx="208.6" cy="1405.4" r="3.3"/><circle cx="210.4" cy="1399.7" r="3.3"/><circle cx="212.1" cy="1397.8" r="3.3"/><circle cx="213.4" cy="1392.4" r="3.2"/><circle cx="214.8" cy="1390.5" r="3.2"/><circle cx="216.1" cy="1389.1" r="3.4"/><circle cx="218.5" cy="1386.5" r="3.4"/><circle cx="220.1" cy="1382.6" r="3.2"/><circle cx="221.7" cy="1379.4" r="3.6"/><circle cx="222.7" cy="1377.9" r="3.8"/><circle cx="224.3" cy="1378.0" r="3.6"/><circle cx="226.2" cy="1375.4" r="3.4"/><circle cx="227.2" cy="1371.2" r="3.6"/><circle cx="228.7" cy="1367.4" r="3.5"/><circle cx="229.8" cy="1364.8" r="3.3"/><circle cx="231.6" cy="1360.0" r="3.5"/><circle cx="233.0" cy="1360.7" r="3.2"/><circle cx="234.8" cy="1359.1" r="3.6"/><circle cx="237.0" cy="1360.5" r="3.3"/><circle cx="239.3" cy="1360.5" r="3.4"/><circle cx="241.1" cy="1360.9" r="3.8"/><circle cx="242.6" cy="1360.1" r="3.7"/><circle cx="243.3" cy="1355.6" r="3.7"/><circle cx="244.6" cy="1353.5" r="3.6"/><circle cx="246.9" cy="1348.3" r="3.6"/><circle cx="247.7" cy="1343.1" r="3.6"/><circle cx="249.2" cy="1342.5" r="3.8"/><circle cx="251.8" cy="1339.9" r="3.3"/><circle cx="252.4" cy="1338.1" r="3.7"/><circle cx="254.4" cy="1339.1" r="3.4"/><circle cx="256.6" cy="1336.2" r="3.3"/><circle cx="257.4" cy="1333.5" r="3.7"/><circle cx="259.1" cy="1334.3" r="3.6"/><circle cx="260.8" cy="1329.9" r="3.7"/><circle cx="262.6" cy="1324.1" r="3.8"/><circle cx="263.5" cy="1320.3" r="3.6"/><circle cx="264.7" cy="1315.9" r="3.3"/><circle cx="266.8" cy="1315.4" r="3.2"/><circle cx="268.0" cy="1312.6" r="3.5"/><circle cx="269.4" cy="1312.9" r="3.7"/><circle cx="271.8" cy="1310.8" r="3.3"/><circle cx="273.5" cy="1305.5" r="3.2"/><circle cx="274.7" cy="1301.7" r="3.2"/><circle cx="276.2" cy="1299.7" r="3.3"/><circle cx="276.9" cy="1293.2" r="3.6"/><circle cx="278.6" cy="1293.5" r="3.2"/><circle cx="280.5" cy="1291.9" r="3.3"/><circle cx="282.8" cy="1294.8" r="3.3"/><circle cx="284.2" cy="1292.6" r="3.6"/><circle cx="286.4" cy="1294.6" r="3.8"/><circle cx="287.2" cy="1294.2" r="3.2"/><circle cx="289.4" cy="1293.1" r="3.2"/><circle cx="290.7" cy="1288.8" r="3.8"/><circle cx="291.8" cy="1284.0" r="3.8"/><circle cx="294.1" cy="1280.9" r="3.3"/><circle cx="294.6" cy="1278.2" r="3.4"/><circle cx="296.1" cy="1273.7" r="3.5"/><circle cx="298.0" cy="1277.6" r="3.4"/><circle cx="299.8" cy="1280.6" r="3.4"/><circle cx="301.1" cy="1280.9" r="3.5"/><circle cx="303.0" cy="1280.2" r="3.3"/><circle cx="304.3" cy="1279.7" r="3.2"/><circle cx="306.2" cy="1279.0" r="3.2"/><circle cx="307.3" cy="1277.1" r="3.3"/><circle cx="309.5" cy="1274.8" r="3.2"/><circle cx="310.5" cy="1274.6" r="3.6"/><circle cx="312.6" cy="1270.0" r="3.6"/><circle cx="313.9" cy="1271.8" r="3.3"/><circle cx="315.6" cy="1268.6" r="3.7"/><circle cx="317.9" cy="1268.9" r="3.7"/><circle cx="319.4" cy="1267.4" r="3.4"/><circle cx="320.4" cy="1264.1" r="3.5"/><circle cx="323.2" cy="1265.3" r="3.3"/><circle cx="323.7" cy="1261.6" r="3.8"/><circle cx="325.7" cy="1263.4" r="3.5"/><circle cx="327.4" cy="1261.7" r="3.2"/><circle cx="329.9" cy="1260.9" r="3.3"/><circle cx="331.6" cy="1258.9" r="3.6"/><circle cx="332.5" cy="1257.3" r="3.4"/><circle cx="334.9" cy="1256.9" r="3.7"/><circle cx="336.9" cy="1258.3" r="3.3"/><circle cx="337.7" cy="1257.9" r="3.7"/><circle cx="339.4" cy="1256.2" r="3.7"/><circle cx="341.1" cy="1256.4" r="3.2"/><circle cx="343.8" cy="1256.6" r="3.6"/><circle cx="344.5" cy="1256.4" r="3.3"/><circle cx="347.0" cy="1256.3" r="3.6"/><circle cx="348.7" cy="1255.6" r="3.7"/><circle cx="350.6" cy="1256.2" r="3.7"/><circle cx="351.8" cy="1253.7" r="3.3"/><circle cx="354.2" cy="1254.5" r="3.2"/><circle cx="355.8" cy="1253.5" r="3.6"/><circle cx="357.7" cy="1250.5" r="3.5"/><circle cx="359.1" cy="1248.5" r="3.2"/><circle cx="360.0" cy="1241.4" r="3.3"/><circle cx="361.6" cy="1239.3" r="3.6"/><circle cx="362.9" cy="1241.9" r="3.2"/><circle cx="365.0" cy="1246.3" r="3.6"/><circle cx="365.8" cy="1247.4" r="3.3"/><circle cx="367.9" cy="1251.0" r="3.3"/><circle cx="369.8" cy="1249.6" r="3.4"/><circle cx="370.9" cy="1251.3" r="3.5"/><circle cx="373.1" cy="1251.8" r="3.7"/><circle cx="374.6" cy="1255.7" r="3.2"/><circle cx="376.5" cy="1253.5" r="3.7"/><circle cx="377.3" cy="1252.5" r="3.3"/><circle cx="379.7" cy="1252.8" r="3.4"/><circle cx="381.2" cy="1250.9" r="3.6"/><circle cx="382.7" cy="1250.1" r="3.6"/><circle cx="384.7" cy="1250.1" r="3.6"/><circle cx="386.5" cy="1250.0" r="3.8"/><circle cx="388.5" cy="1250.4" r="3.3"/><circle cx="390.0" cy="1247.9" r="3.4"/><circle cx="391.8" cy="1251.0" r="3.6"/><circle cx="393.1" cy="1252.4" r="3.3"/><circle cx="394.5" cy="1254.3" r="3.3"/><circle cx="396.4" cy="1255.2" r="3.3"/><circle cx="397.8" cy="1255.4" r="3.7"/><circle cx="399.7" cy="1255.5" r="3.7"/><circle cx="401.1" cy="1255.4" r="3.7"/><circle cx="403.9" cy="1255.7" r="3.8"/><circle cx="405.6" cy="1255.6" r="3.7"/><circle cx="407.3" cy="1255.9" r="3.4"/><circle cx="408.9" cy="1252.9" r="3.4"/><circle cx="410.1" cy="1252.9" r="3.7"/><circle cx="411.5" cy="1251.8" r="3.2"/><circle cx="414.3" cy="1253.7" r="3.6"/><circle cx="415.4" cy="1252.6" r="3.2"/><circle cx="417.7" cy="1252.5" r="3.2"/><circle cx="419.5" cy="1250.8" r="3.5"/><circle cx="420.4" cy="1251.3" r="3.3"/><circle cx="422.4" cy="1250.1" r="3.8"/><circle cx="424.2" cy="1249.2" r="3.8"/><circle cx="426.7" cy="1247.4" r="3.5"/><circle cx="427.8" cy="1247.9" r="3.3"/><circle cx="429.5" cy="1247.6" r="3.2"/><circle cx="431.0" cy="1246.2" r="3.5"/><circle cx="433.0" cy="1245.2" r="3.5"/><circle cx="434.0" cy="1241.3" r="3.4"/><circle cx="435.9" cy="1242.4" r="3.7"/><circle cx="437.2" cy="1238.7" r="3.5"/><circle cx="439.7" cy="1239.6" r="3.7"/><circle cx="440.7" cy="1236.1" r="3.2"/><circle cx="442.9" cy="1235.3" r="3.2"/><circle cx="444.6" cy="1233.9" r="3.4"/><circle cx="445.7" cy="1230.7" r="3.5"/><circle cx="447.1" cy="1230.5" r="3.3"/><circle cx="449.0" cy="1228.9" r="3.6"/><circle cx="451.7" cy="1230.4" r="3.3"/><circle cx="453.0" cy="1230.7" r="3.4"/><circle cx="454.8" cy="1231.1" r="3.5"/><circle cx="456.2" cy="1229.2" r="3.6"/><circle cx="457.7" cy="1229.3" r="3.7"/><circle cx="459.8" cy="1229.1" r="3.4"/><circle cx="461.1" cy="1228.5" r="3.5"/><circle cx="463.7" cy="1227.3" r="3.8"/><circle cx="464.5" cy="1225.8" r="3.8"/><circle cx="466.0" cy="1221.7" r="3.6"/><circle cx="467.8" cy="1220.9" r="3.2"/><circle cx="469.9" cy="1219.2" r="3.5"/><circle cx="471.5" cy="1216.2" r="3.6"/><circle cx="473.4" cy="1214.8" r="3.3"/><circle cx="474.8" cy="1211.2" r="3.2"/><circle cx="476.3" cy="1209.3" r="3.8"/><circle cx="477.9" cy="1208.5" r="3.8"/><circle cx="479.2" cy="1203.7" r="3.2"/><circle cx="479.9" cy="1200.4" r="3.5"/><circle cx="482.5" cy="1197.8" r="3.6"/><circle cx="484.0" cy="1199.0" r="3.4"/><circle cx="485.8" cy="1197.4" r="3.2"/><circle cx="486.9" cy="1196.9" r="3.7"/><circle cx="489.7" cy="1197.7" r="3.7"/><circle cx="491.1" cy="1198.1" r="3.5"/><circle cx="492.4" cy="1196.2" r="3.2"/><circle cx="493.9" cy="1198.6" r="3.4"/><circle cx="495.7" cy="1197.5" r="3.2"/><circle cx="497.6" cy="1195.0" r="3.8"/><circle cx="498.9" cy="1193.6" r="3.2"/><circle cx="500.7" cy="1190.5" r="3.4"/><circle cx="502.7" cy="1187.9" r="3.7"/><circle cx="504.0" cy="1188.7" r="3.2"/><circle cx="505.8" cy="1186.7" r="3.2"/><circle cx="508.1" cy="1185.6" r="3.2"/><circle cx="508.9" cy="1182.6" r="3.3"/><circle cx="510.1" cy="1174.6" r="3.5"/><circle cx="511.6" cy="1168.6" r="3.7"/><circle cx="513.1" cy="1162.3" r="3.3"/><circle cx="514.2" cy="1160.1" r="3.3"/><circle cx="514.9" cy="1160.2" r="3.7"/><circle cx="516.2" cy="1167.8" r="3.4"/><circle cx="517.4" cy="1175.5" r="3.4"/><circle cx="518.7" cy="1172.8" r="3.2"/><circle cx="520.9" cy="1172.4" r="3.3"/><circle cx="522.3" cy="1172.6" r="3.8"/><circle cx="523.9" cy="1170.7" r="3.2"/><circle cx="526.0" cy="1171.4" r="3.3"/><circle cx="528.4" cy="1171.0" r="3.7"/><circle cx="529.1" cy="1169.3" r="3.8"/><circle cx="531.6" cy="1169.9" r="3.8"/><circle cx="533.5" cy="1170.7" r="3.5"/><circle cx="535.3" cy="1167.3" r="3.8"/><circle cx="537.1" cy="1168.1" r="3.6"/><circle cx="538.0" cy="1166.4" r="3.4"/><circle cx="540.5" cy="1166.0" r="3.5"/><circle cx="541.3" cy="1165.7" r="3.7"/><circle cx="544.1" cy="1165.8" r="3.7"/><circle cx="545.6" cy="1164.0" r="3.2"/><circle cx="546.2" cy="1156.2" r="3.3"/><circle cx="546.4" cy="1144.4" r="3.8"/><circle cx="547.4" cy="1132.5" r="3.2"/><circle cx="548.9" cy="1123.7" r="3.7"/><circle cx="549.4" cy="1118.6" r="3.4"/><circle cx="551.6" cy="1118.4" r="3.3"/><circle cx="552.5" cy="1117.1" r="3.3"/><circle cx="555.1" cy="1117.7" r="3.5"/><circle cx="556.3" cy="1117.9" r="3.8"/><circle cx="558.5" cy="1118.8" r="3.3"/><circle cx="559.7" cy="1119.7" r="3.7"/><circle cx="562.2" cy="1121.9" r="3.4"/><circle cx="563.6" cy="1122.2" r="3.3"/><circle cx="564.8" cy="1115.5" r="3.7"/><circle cx="565.2" cy="1110.9" r="3.4"/><circle cx="567.2" cy="1103.0" r="3.3"/><circle cx="568.1" cy="1101.8" r="3.4"/><circle cx="570.1" cy="1101.3" r="3.7"/><circle cx="571.5" cy="1102.6" r="3.8"/><circle cx="573.7" cy="1102.6" r="3.6"/><circle cx="575.2" cy="1102.6" r="3.2"/><circle cx="576.4" cy="1104.4" r="3.7"/><circle cx="578.4" cy="1103.6" r="3.6"/><circle cx="580.4" cy="1104.9" r="3.8"/><circle cx="582.0" cy="1103.0" r="3.8"/><circle cx="583.7" cy="1098.4" r="3.4"/><circle cx="585.6" cy="1096.3" r="3.7"/><circle cx="587.3" cy="1098.1" r="3.7"/><circle cx="587.7" cy="1104.5" r="3.3"/><circle cx="589.1" cy="1107.2" r="3.4"/><circle cx="590.7" cy="1110.7" r="3.4"/><circle cx="591.9" cy="1112.3" r="3.4"/><circle cx="593.6" cy="1116.4" r="3.4"/><circle cx="595.1" cy="1116.6" r="3.2"/><circle cx="597.1" cy="1117.0" r="3.3"/><circle cx="599.2" cy="1118.7" r="3.8"/><circle cx="600.4" cy="1117.5" r="3.4"/><circle cx="601.9" cy="1117.3" r="3.6"/><circle cx="603.5" cy="1111.9" r="3.8"/><circle cx="605.4" cy="1110.9" r="3.7"/><circle cx="607.3" cy="1112.8" r="3.3"/><circle cx="608.0" cy="1116.8" r="3.8"/><circle cx="608.9" cy="1106.8" r="3.7"/><circle cx="609.0" cy="1093.2" r="3.8"/><circle cx="610.3" cy="1085.2" r="3.7"/><circle cx="611.9" cy="1077.6" r="3.7"/><circle cx="613.1" cy="1074.3" r="3.7"/><circle cx="613.4" cy="1081.1" r="3.3"/><circle cx="613.9" cy="1080.1" r="3.6"/></g>
</g>
<g>
<path d="M111.9 1418.9 L113.2 1415.8 L114.9 1414.3 L116.4 1412.0 L118.4 1409.9 L119.4 1408.4 L121.5 1406.1 L123.1 1402.9 L124.9 1402.6 L126.2 1401.1 L128.2 1401.6 L130.0 1399.5 L131.2 1399.9 L132.7 1400.8 L134.4 1402.8 L136.3 1401.7 L137.8 1404.4 L139.6 1404.8 L141.4 1406.8 L143.6 1406.6 L145.0 1408.9 L146.6 1409.7 L148.5 1409.0 L150.3 1410.5 L151.4 1410.9 L153.8 1410.9 L155.3 1410.4 L157.2 1408.8 L158.1 1405.8 L159.4 1402.4 L160.8 1394.1 L162.0 1387.6 L162.7 1381.4 L163.7 1373.7 L163.6 1362.9 L165.1 1355.5 L165.5 1346.5 L166.9 1341.2 L167.5 1335.4 L169.5 1330.4 L170.3 1327.3 L172.3 1323.3 L173.2 1321.0 L175.1 1318.4 L176.5 1317.3 L178.2 1314.4 L180.1 1315.1 L181.4 1313.7 L182.8 1313.2 L184.8 1311.9 L186.8 1310.0 L188.5 1308.7 L189.4 1308.6 L191.9 1308.9 L193.7 1307.3 L195.4 1306.8 L196.4 1306.3 L198.7 1305.1 L200.3 1304.0 L201.7 1303.8 L203.6 1303.3 L205.0 1302.2 L207.0 1304.5 L209.1 1303.7 L210.4 1304.8 L212.0 1305.5 L214.5 1304.9 L215.9 1306.7 L217.8 1307.1 L219.5 1306.7 L221.3 1309.1 L222.3 1309.9 L224.4 1308.4 L225.7 1311.0 L228.0 1310.0 L229.5 1312.4 L231.4 1314.5 L232.7 1317.2 L233.6 1319.9 L235.5 1322.2 L237.1 1321.5 L238.8 1321.7 L240.5 1322.8 L242.5 1322.9 L244.3 1324.0 L246.4 1324.5 L248.2 1325.0 L249.0 1327.4 L250.5 1328.3 L252.0 1331.7 L254.4 1330.0 L255.4 1328.2 L257.0 1327.0 L258.6 1323.7 L260.6 1322.9 L261.4 1323.6 L263.5 1324.8 L264.9 1328.8 L266.2 1329.7 L267.8 1328.4 L269.7 1327.3 L271.6 1324.1 L272.6 1324.4 L274.6 1322.1 L275.5 1314.6 L276.6 1307.4 L277.4 1309.0 L278.5 1314.5 L280.5 1315.9 L281.4 1318.7 L282.8 1313.6 L284.4 1308.8 L285.5 1307.9 L287.3 1307.3 L288.8 1307.6 L290.8 1309.3 L292.2 1308.8 L294.0 1309.3 L296.2 1310.2 L297.4 1310.0 L299.7 1309.9 L301.3 1309.9 L302.6 1310.4 L304.2 1316.9 L304.9 1316.1 L306.3 1314.1 L308.1 1310.8 L309.6 1306.2 L310.3 1303.1" fill="none" stroke="#37601E" stroke-width="3.60" stroke-linejoin="round" stroke-linecap="round" />
<g fill="#37601E"><circle cx="111.9" cy="1418.9" r="4.2"/><circle cx="113.2" cy="1415.8" r="3.9"/><circle cx="114.9" cy="1414.3" r="3.7"/><circle cx="116.4" cy="1412.0" r="4.1"/><circle cx="118.4" cy="1409.9" r="4.2"/><circle cx="119.4" cy="1408.4" r="3.8"/><circle cx="121.5" cy="1406.1" r="3.6"/><circle cx="123.1" cy="1402.9" r="4.2"/><circle cx="124.9" cy="1402.6" r="4.1"/><circle cx="126.2" cy="1401.1" r="4.0"/><circle cx="128.2" cy="1401.6" r="4.2"/><circle cx="130.0" cy="1399.5" r="3.6"/><circle cx="131.2" cy="1399.9" r="3.6"/><circle cx="132.7" cy="1400.8" r="3.6"/><circle cx="134.4" cy="1402.8" r="3.6"/><circle cx="136.3" cy="1401.7" r="4.0"/><circle cx="137.8" cy="1404.4" r="4.0"/><circle cx="139.6" cy="1404.8" r="3.6"/><circle cx="141.4" cy="1406.8" r="3.7"/><circle cx="143.6" cy="1406.6" r="3.7"/><circle cx="145.0" cy="1408.9" r="4.0"/><circle cx="146.6" cy="1409.7" r="4.0"/><circle cx="148.5" cy="1409.0" r="4.2"/><circle cx="150.3" cy="1410.5" r="3.8"/><circle cx="151.4" cy="1410.9" r="4.2"/><circle cx="153.8" cy="1410.9" r="3.9"/><circle cx="155.3" cy="1410.4" r="3.8"/><circle cx="157.2" cy="1408.8" r="3.7"/><circle cx="158.1" cy="1405.8" r="3.7"/><circle cx="159.4" cy="1402.4" r="4.2"/><circle cx="160.8" cy="1394.1" r="4.2"/><circle cx="162.0" cy="1387.6" r="4.0"/><circle cx="162.7" cy="1381.4" r="3.7"/><circle cx="163.7" cy="1373.7" r="3.7"/><circle cx="163.6" cy="1362.9" r="3.7"/><circle cx="165.1" cy="1355.5" r="3.8"/><circle cx="165.5" cy="1346.5" r="4.1"/><circle cx="166.9" cy="1341.2" r="3.6"/><circle cx="167.5" cy="1335.4" r="3.9"/><circle cx="169.5" cy="1330.4" r="4.0"/><circle cx="170.3" cy="1327.3" r="3.6"/><circle cx="172.3" cy="1323.3" r="3.9"/><circle cx="173.2" cy="1321.0" r="4.1"/><circle cx="175.1" cy="1318.4" r="4.0"/><circle cx="176.5" cy="1317.3" r="3.9"/><circle cx="178.2" cy="1314.4" r="4.2"/><circle cx="180.1" cy="1315.1" r="4.0"/><circle cx="181.4" cy="1313.7" r="3.8"/><circle cx="182.8" cy="1313.2" r="3.8"/><circle cx="184.8" cy="1311.9" r="4.2"/><circle cx="186.8" cy="1310.0" r="4.2"/><circle cx="188.5" cy="1308.7" r="4.2"/><circle cx="189.4" cy="1308.6" r="3.9"/><circle cx="191.9" cy="1308.9" r="3.6"/><circle cx="193.7" cy="1307.3" r="3.7"/><circle cx="195.4" cy="1306.8" r="3.8"/><circle cx="196.4" cy="1306.3" r="4.0"/><circle cx="198.7" cy="1305.1" r="3.6"/><circle cx="200.3" cy="1304.0" r="4.1"/><circle cx="201.7" cy="1303.8" r="4.1"/><circle cx="203.6" cy="1303.3" r="3.9"/><circle cx="205.0" cy="1302.2" r="3.6"/><circle cx="207.0" cy="1304.5" r="4.1"/><circle cx="209.1" cy="1303.7" r="3.8"/><circle cx="210.4" cy="1304.8" r="4.0"/><circle cx="212.0" cy="1305.5" r="3.9"/><circle cx="214.5" cy="1304.9" r="4.1"/><circle cx="215.9" cy="1306.7" r="3.8"/><circle cx="217.8" cy="1307.1" r="4.2"/><circle cx="219.5" cy="1306.7" r="4.2"/><circle cx="221.3" cy="1309.1" r="4.2"/><circle cx="222.3" cy="1309.9" r="4.0"/><circle cx="224.4" cy="1308.4" r="3.8"/><circle cx="225.7" cy="1311.0" r="3.8"/><circle cx="228.0" cy="1310.0" r="3.7"/><circle cx="229.5" cy="1312.4" r="4.2"/><circle cx="231.4" cy="1314.5" r="4.1"/><circle cx="232.7" cy="1317.2" r="4.1"/><circle cx="233.6" cy="1319.9" r="4.1"/><circle cx="235.5" cy="1322.2" r="4.2"/><circle cx="237.1" cy="1321.5" r="4.0"/><circle cx="238.8" cy="1321.7" r="3.8"/><circle cx="240.5" cy="1322.8" r="4.1"/><circle cx="242.5" cy="1322.9" r="3.7"/><circle cx="244.3" cy="1324.0" r="4.0"/><circle cx="246.4" cy="1324.5" r="3.7"/><circle cx="248.2" cy="1325.0" r="4.2"/><circle cx="249.0" cy="1327.4" r="3.9"/><circle cx="250.5" cy="1328.3" r="3.7"/><circle cx="252.0" cy="1331.7" r="4.2"/><circle cx="254.4" cy="1330.0" r="3.6"/><circle cx="255.4" cy="1328.2" r="4.2"/><circle cx="257.0" cy="1327.0" r="4.1"/><circle cx="258.6" cy="1323.7" r="3.7"/><circle cx="260.6" cy="1322.9" r="4.1"/><circle cx="261.4" cy="1323.6" r="4.0"/><circle cx="263.5" cy="1324.8" r="4.2"/><circle cx="264.9" cy="1328.8" r="4.0"/><circle cx="266.2" cy="1329.7" r="3.8"/><circle cx="267.8" cy="1328.4" r="4.2"/><circle cx="269.7" cy="1327.3" r="3.6"/><circle cx="271.6" cy="1324.1" r="4.1"/><circle cx="272.6" cy="1324.4" r="3.6"/><circle cx="274.6" cy="1322.1" r="3.7"/><circle cx="275.5" cy="1314.6" r="3.6"/><circle cx="276.6" cy="1307.4" r="4.2"/><circle cx="277.4" cy="1309.0" r="3.9"/><circle cx="278.5" cy="1314.5" r="4.1"/><circle cx="280.5" cy="1315.9" r="3.7"/><circle cx="281.4" cy="1318.7" r="4.1"/><circle cx="282.8" cy="1313.6" r="4.0"/><circle cx="284.4" cy="1308.8" r="3.6"/><circle cx="285.5" cy="1307.9" r="3.9"/><circle cx="287.3" cy="1307.3" r="4.1"/><circle cx="288.8" cy="1307.6" r="3.7"/><circle cx="290.8" cy="1309.3" r="4.0"/><circle cx="292.2" cy="1308.8" r="3.7"/><circle cx="294.0" cy="1309.3" r="3.8"/><circle cx="296.2" cy="1310.2" r="4.2"/><circle cx="297.4" cy="1310.0" r="4.2"/><circle cx="299.7" cy="1309.9" r="4.2"/><circle cx="301.3" cy="1309.9" r="3.8"/><circle cx="302.6" cy="1310.4" r="4.0"/><circle cx="304.2" cy="1316.9" r="4.1"/><circle cx="304.9" cy="1316.1" r="4.1"/><circle cx="306.3" cy="1314.1" r="3.9"/><circle cx="308.1" cy="1310.8" r="4.2"/><circle cx="309.6" cy="1306.2" r="3.8"/><circle cx="310.3" cy="1303.1" r="4.2"/></g>
</g>
<g>
<path d="M112.2 1416.8 L113.3 1416.3 L113.5 1415.0 L114.6 1417.8 L114.4 1414.2 L114.5 1415.3 L113.9 1417.8 L113.7 1414.8 L114.2 1416.8 L116.6 1410.3 L115.9 1412.7 L117.1 1414.2 L116.6 1415.2 L116.7 1409.0 L118.7 1408.4 L117.6 1410.7 L118.4 1407.8 L120.4 1409.6 L120.5 1407.5 L121.3 1406.9 L121.9 1409.4 L122.6 1410.3 L122.3 1408.3 L123.4 1407.4 L122.1 1410.5 L124.4 1408.5 L124.8 1405.0 L124.7 1408.9 L126.5 1409.5 L125.1 1407.6 L126.8 1405.5 L126.4 1403.4 L127.8 1405.9 L128.0 1404.9 L129.3 1407.6 L130.1 1403.1 L131.4 1404.7 L132.2 1409.4 L130.6 1406.8 L133.3 1405.7 L132.8 1405.4 L132.0 1404.9 L132.8 1405.8 L134.7 1408.1 L136.0 1409.3 L135.1 1411.4 L136.3 1408.8 L137.5 1410.0 L136.8 1409.8 L137.2 1412.7 L137.6 1413.0 L137.7 1406.3 L139.5 1408.0 L140.0 1407.6 L141.4 1411.7 L141.7 1413.4 L143.1 1411.6 L143.1 1406.6 L142.1 1409.6 L145.0 1408.7 L144.4 1405.8 L144.3 1411.4 L145.0 1410.0 L143.8 1404.7 L144.5 1408.4 L144.6 1408.2 L145.3 1407.0 L146.2 1402.2 L147.6 1401.9 L147.2 1398.6 L147.8 1404.4 L146.3 1401.8 L146.7 1397.5" fill="none" stroke="#F526B8" stroke-width="4.00" stroke-linejoin="round" stroke-linecap="round" />
<g fill="#F526B8"><circle cx="112.2" cy="1416.8" r="3.7"/><circle cx="113.3" cy="1416.3" r="3.9"/><circle cx="113.5" cy="1415.0" r="4.1"/><circle cx="114.6" cy="1417.8" r="4.1"/><circle cx="114.4" cy="1414.2" r="4.1"/><circle cx="114.5" cy="1415.3" r="3.9"/><circle cx="113.9" cy="1417.8" r="3.9"/><circle cx="113.7" cy="1414.8" r="3.6"/><circle cx="114.2" cy="1416.8" r="4.0"/><circle cx="116.6" cy="1410.3" r="3.8"/><circle cx="115.9" cy="1412.7" r="3.7"/><circle cx="117.1" cy="1414.2" r="4.1"/><circle cx="116.6" cy="1415.2" r="3.6"/><circle cx="116.7" cy="1409.0" r="3.5"/><circle cx="118.7" cy="1408.4" r="3.6"/><circle cx="117.6" cy="1410.7" r="3.6"/><circle cx="118.4" cy="1407.8" r="3.9"/><circle cx="120.4" cy="1409.6" r="4.0"/><circle cx="120.5" cy="1407.5" r="3.6"/><circle cx="121.3" cy="1406.9" r="3.8"/><circle cx="121.9" cy="1409.4" r="3.9"/><circle cx="122.6" cy="1410.3" r="3.8"/><circle cx="122.3" cy="1408.3" r="3.7"/><circle cx="123.4" cy="1407.4" r="3.8"/><circle cx="122.1" cy="1410.5" r="3.5"/><circle cx="124.4" cy="1408.5" r="3.5"/><circle cx="124.8" cy="1405.0" r="3.7"/><circle cx="124.7" cy="1408.9" r="3.6"/><circle cx="126.5" cy="1409.5" r="4.0"/><circle cx="125.1" cy="1407.6" r="3.6"/><circle cx="126.8" cy="1405.5" r="4.0"/><circle cx="126.4" cy="1403.4" r="3.6"/><circle cx="127.8" cy="1405.9" r="3.5"/><circle cx="128.0" cy="1404.9" r="3.8"/><circle cx="129.3" cy="1407.6" r="3.7"/><circle cx="130.1" cy="1403.1" r="3.7"/><circle cx="131.4" cy="1404.7" r="4.0"/><circle cx="132.2" cy="1409.4" r="3.6"/><circle cx="130.6" cy="1406.8" r="3.9"/><circle cx="133.3" cy="1405.7" r="4.0"/><circle cx="132.8" cy="1405.4" r="3.8"/><circle cx="132.0" cy="1404.9" r="3.8"/><circle cx="132.8" cy="1405.8" r="4.1"/><circle cx="134.7" cy="1408.1" r="3.9"/><circle cx="136.0" cy="1409.3" r="3.6"/><circle cx="135.1" cy="1411.4" r="3.5"/><circle cx="136.3" cy="1408.8" r="3.5"/><circle cx="137.5" cy="1410.0" r="3.7"/><circle cx="136.8" cy="1409.8" r="3.5"/><circle cx="137.2" cy="1412.7" r="3.9"/><circle cx="137.6" cy="1413.0" r="3.7"/><circle cx="137.7" cy="1406.3" r="3.7"/><circle cx="139.5" cy="1408.0" r="3.8"/><circle cx="140.0" cy="1407.6" r="4.1"/><circle cx="141.4" cy="1411.7" r="3.6"/><circle cx="141.7" cy="1413.4" r="3.6"/><circle cx="143.1" cy="1411.6" r="3.7"/><circle cx="143.1" cy="1406.6" r="3.7"/><circle cx="142.1" cy="1409.6" r="4.1"/><circle cx="145.0" cy="1408.7" r="3.9"/><circle cx="144.4" cy="1405.8" r="3.8"/><circle cx="144.3" cy="1411.4" r="3.6"/><circle cx="145.0" cy="1410.0" r="3.5"/><circle cx="143.8" cy="1404.7" r="3.5"/><circle cx="144.5" cy="1408.4" r="4.0"/><circle cx="144.6" cy="1408.2" r="3.9"/><circle cx="145.3" cy="1407.0" r="3.6"/><circle cx="146.2" cy="1402.2" r="3.9"/><circle cx="147.6" cy="1401.9" r="3.5"/><circle cx="147.2" cy="1398.6" r="3.8"/><circle cx="147.8" cy="1404.4" r="3.7"/><circle cx="146.3" cy="1401.8" r="3.5"/><circle cx="146.7" cy="1397.5" r="4.0"/></g>
</g>
<g>
<path d="M147.5 1400.0 L148.0 1386.9 L149.2 1373.4 L149.8 1358.3 L150.5 1339.9 L151.4 1319.7 L151.7 1299.0 L152.9 1276.3 L152.8 1255.1 L153.2 1232.3 L154.4 1215.9 L155.2 1204.8 L156.7 1196.8 L158.2 1184.5 L159.0 1175.3 L160.0 1165.7 L161.6 1159.0 L163.0 1155.2 L165.0 1149.9 L166.0 1146.6 L167.7 1145.8 L169.9 1144.2 L171.9 1141.6 L173.4 1142.8 L174.7 1142.0 L176.4 1142.9 L178.8 1142.6 L179.2 1142.7" fill="none" stroke="#F526B8" stroke-width="4.00" stroke-linejoin="round" stroke-linecap="round" />
<g fill="#F526B8"><circle cx="147.5" cy="1400.0" r="4.0"/><circle cx="148.0" cy="1386.9" r="3.7"/><circle cx="149.2" cy="1373.4" r="4.2"/><circle cx="149.8" cy="1358.3" r="3.9"/><circle cx="150.5" cy="1339.9" r="3.6"/><circle cx="151.4" cy="1319.7" r="3.6"/><circle cx="151.7" cy="1299.0" r="4.1"/><circle cx="152.9" cy="1276.3" r="4.2"/><circle cx="152.8" cy="1255.1" r="4.0"/><circle cx="153.2" cy="1232.3" r="3.7"/><circle cx="154.4" cy="1215.9" r="4.2"/><circle cx="155.2" cy="1204.8" r="4.1"/><circle cx="156.7" cy="1196.8" r="3.6"/><circle cx="158.2" cy="1184.5" r="3.8"/><circle cx="159.0" cy="1175.3" r="4.0"/><circle cx="160.0" cy="1165.7" r="3.6"/><circle cx="161.6" cy="1159.0" r="3.6"/><circle cx="163.0" cy="1155.2" r="3.8"/><circle cx="165.0" cy="1149.9" r="4.2"/><circle cx="166.0" cy="1146.6" r="4.2"/><circle cx="167.7" cy="1145.8" r="3.8"/><circle cx="169.9" cy="1144.2" r="4.2"/><circle cx="171.9" cy="1141.6" r="4.1"/><circle cx="173.4" cy="1142.8" r="4.2"/><circle cx="174.7" cy="1142.0" r="4.0"/><circle cx="176.4" cy="1142.9" r="4.2"/><circle cx="178.8" cy="1142.6" r="4.0"/><circle cx="179.2" cy="1142.7" r="4.2"/></g>
</g>
<text x="112.0" y="1459.8" font-size="27.5" fill="#111" text-anchor="middle" font-weight="normal" >0</text>
<text x="248.3" y="1459.8" font-size="27.5" fill="#111" text-anchor="middle" font-weight="normal" >20</text>
<text x="384.6" y="1459.8" font-size="27.5" fill="#111" text-anchor="middle" font-weight="normal" >40</text>
<text x="520.9" y="1459.8" font-size="27.5" fill="#111" text-anchor="middle" font-weight="normal" >60</text>
<text x="657.2" y="1459.8" font-size="27.5" fill="#111" text-anchor="middle" font-weight="normal" >80</text>
<text transform="translate(88.2,1429.3) scale(0.9,1)" font-size="28.4" fill="#111" text-anchor="end">0</text>
<text transform="translate(88.2,1344.9) scale(0.9,1)" font-size="28.4" fill="#111" text-anchor="end">2</text>
<text transform="translate(88.2,1260.5) scale(0.9,1)" font-size="28.4" fill="#111" text-anchor="end">4</text>
<text transform="translate(88.2,1176.1) scale(0.9,1)" font-size="28.4" fill="#111" text-anchor="end">6</text>
<text transform="translate(88.2,1091.7) scale(0.9,1)" font-size="28.4" fill="#111" text-anchor="end">8</text>
<text x="391.3" y="1482.2" font-size="27.0" fill="#111" text-anchor="middle" font-weight="normal" >SD (mm)</text>
<text transform="translate(47.6,1238.8) rotate(-90) scale(1,1.09)" font-size="27.4" fill="#111" text-anchor="middle">GWL (cm)</text>
<text transform="translate(43,1059.5) scale(1.18,1)" font-size="24" font-weight="bold" fill="#111">(c)</text>
<text x="413.0" y="1303.8" font-size="27.0" fill="#843C0C" text-anchor="start" font-weight="normal" >Case 1</text>
<text x="261.0" y="1360.2" font-size="27.0" fill="#0070C0" text-anchor="start" font-weight="normal" >Case 2</text>
<text x="509.5" y="1082.7" font-size="27.0" fill="#7030A0" text-anchor="start" font-weight="normal" >Case 3</text>
<text x="200.5" y="1273.9" font-size="27.0" fill="#375623" text-anchor="start" font-weight="normal" >Case 4</text>
<text x="160.3" y="1125.2" font-size="27.0" fill="#FF33CC" text-anchor="start" font-weight="normal" >Case 5</text>
<line x1="60.2" y1="1108" x2="63.1" y2="1110.8" stroke="#8a8a8a" stroke-width="1"/>
<line x1="47.5" y1="1141.9" x2="55.8" y2="1141.9" stroke="#c4c4c4" stroke-width="1"/>
</svg></body></html>
